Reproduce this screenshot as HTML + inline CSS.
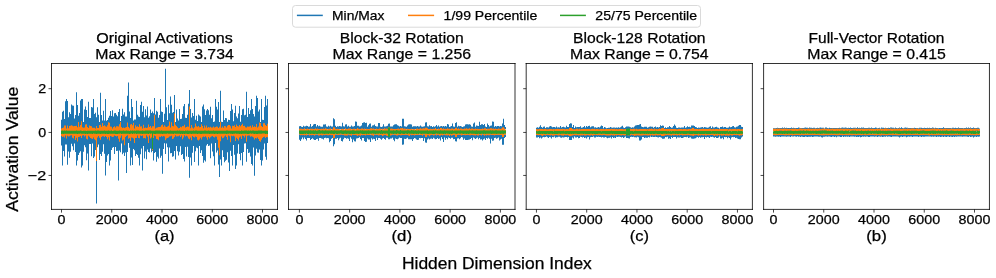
<!DOCTYPE html><html><head><meta charset="utf-8"><style>html,body{margin:0;padding:0;background:#fff;}svg{display:block;font-family:"Liberation Sans",sans-serif;}text{stroke:#000;stroke-width:0.25px}</style></head><body>
<svg width="996" height="278" viewBox="0 0 996 278" style="will-change:transform">
<rect width="996" height="278" fill="#fff"/>
<clipPath id="c0"><rect x="51.5" y="63.5" width="226.0" height="145.9"/></clipPath>
<g clip-path="url(#c0)">
<path d="M61,119.7H62V111.8H63V110.8H64V119.1H65V101.2H66V99.0H67V101.0H68V117.2H69V112.3H70V114.1H71V104.5H72V105.5H73V105.8H74V118.4H75V115.0H76V92.3H77V104.9H78V115.7H79V113.0H80V100.5H81V99.0H82V99.0H83V121.9H84V109.4H85V106.5H86V110.1H87V117.0H88V101.8H89V118.0H90V118.0H91V107.0H92V107.4H93V99.0H94V114.0H95V112.8H96V117.2H97V107.2H98V114.8H99V121.9H100V92.7H101V115.0H102V120.4H103V110.7H104V120.6H105V99.1H106V120.8H107V120.0H108V117.7H109V115.7H110V110.9H111V116.0H112V110.2H113V116.6H114V113.3H115V112.9H116V114.8H117V116.3H118V112.0H119V108.9H120V120.9H121V116.1H122V108.7H123V114.5H124V112.3H125V116.4H126V116.4H127V95.7H128V82.5H129V111.5H130V118.0H131V99.0H132V106.9H133V120.6H134V119.6H135V119.6H136V100.7H137V114.8H138V116.6H139V116.9H140V104.9H141V101.7H142V111.8H143V106.1H144V117.3H145V109.2H146V115.5H147V106.6H148V117.7H149V116.3H150V109.4H151V112.9H152V111.5H153V113.2H154V97.9H155V114.6H156V110.8H157V111.8H158V117.7H159V114.9H160V99.0H161V111.4H162V111.9H163V122.0H164V113.7H165V68.8H166V107.3H167V119.9H168V104.8H169V113.3H170V96.4H171V104.7H172V112.8H173V112.1H174V95.1H175V122.0H176V109.5H177V118.4H178V120.5H179V108.9H180V119.1H181V118.8H182V114.0H183V106.2H184V103.9H185V117.7H186V117.9H187V114.7H188V103.7H189V90.1H190V109.1H191V117.4H192V113.0H193V116.1H194V99.0H195V119.8H196V115.7H197V120.9H198V114.4H199V115.6H200V116.6H201V122.0H202V106.6H203V104.4H204V109.2H205V114.9H206V110.4H207V108.9H208V110.3H209V114.7H210V106.7H211V118.2H212V115.1H213V121.9H214V121.5H215V99.0H216V106.8H217V109.5H218V101.9H219V121.9H220V90.7H221V121.7H222V122.0H223V110.5H224V119.9H225V118.1H226V118.2H227V121.8H228V119.7H229V120.1H230V111.1H231V104.0H232V109.4H233V121.2H234V113.1H235V105.8H236V116.5H237V118.3H238V113.5H239V106.0H240V121.7H241V115.0H242V109.3H243V108.8H244V115.3H245V114.8H246V91.8H247V117.0H248V107.9H249V113.9H250V110.2H251V99.0H252V108.9H253V113.9H254V116.4H255V105.9H256V95.7H257V97.9H258V111.5H259V109.4H260V122.0H261V99.0H262V119.8H263V120.0H264V107.1H265V95.7H266V105.5H267V99.0H268V131.6H267V131.3H266V131.0H265V131.7H264V131.4H263V131.6H262V131.4H261V131.5H260V131.7H259V131.7H258V131.5H257V131.6H256V131.6H255V131.4H254V131.4H253V131.6H252V131.7H251V131.2H250V131.6H249V131.6H248V131.7H247V131.3H246V131.6H245V131.4H244V131.2H243V131.4H242V131.7H241V131.4H240V131.6H239V131.5H238V131.7H237V131.4H236V131.6H235V131.6H234V131.6H233V130.3H232V131.3H231V131.6H230V131.5H229V131.6H228V131.4H227V131.6H226V131.4H225V131.6H224V131.7H223V131.6H222V131.6H221V131.7H220V131.7H219V131.5H218V131.6H217V131.6H216V131.7H215V131.4H214V131.6H213V130.8H212V131.6H211V131.7H210V131.1H209V131.6H208V131.1H207V131.7H206V131.7H205V131.6H204V131.6H203V131.7H202V131.6H201V131.6H200V131.6H199V131.7H198V131.6H197V131.7H196V131.7H195V131.2H194V131.3H193V131.6H192V131.7H191V131.5H190V131.6H189V131.6H188V131.0H187V131.7H186V131.2H185V131.6H184V131.7H183V131.6H182V131.7H181V131.5H180V131.1H179V131.5H178V131.5H177V131.6H176V131.6H175V131.7H174V131.3H173V131.5H172V131.7H171V131.7H170V131.5H169V131.7H168V131.7H167V131.5H166V131.6H165V131.6H164V131.7H163V131.3H162V131.0H161V131.7H160V131.6H159V131.5H158V130.9H157V131.4H156V131.7H155V131.2H154V131.5H153V130.7H152V131.2H151V131.6H150V131.6H149V131.7H148V131.7H147V131.7H146V131.4H145V131.7H144V131.7H143V131.6H142V131.2H141V131.6H140V131.7H139V131.6H138V131.1H137V131.6H136V131.7H135V131.3H134V131.4H133V131.0H132V131.5H131V131.7H130V131.1H129V131.6H128V131.7H127V131.3H126V131.7H125V131.6H124V131.5H123V130.8H122V131.5H121V131.6H120V131.5H119V131.6H118V131.6H117V131.5H116V130.8H115V131.5H114V131.5H113V131.7H112V131.6H111V131.2H110V131.4H109V131.7H108V131.6H107V131.7H106V131.6H105V131.3H104V131.6H103V131.5H102V131.7H101V131.5H100V131.7H99V131.6H98V131.0H97V131.5H96V131.6H95V131.2H94V131.6H93V131.6H92V131.7H91V131.6H90V131.7H89V131.5H88V131.6H87V131.6H86V131.6H85V131.6H84V131.7H83V131.4H82V131.4H81V131.6H80V131.3H79V131.7H78V131.5H77V131.7H76V131.6H75V131.2H74V131.4H73V131.6H72V130.9H71V131.4H70V131.4H69V131.2H68V131.5H67V131.5H66V131.3H65V131.7H64V131.5H63V131.7H62V131.7H61ZM61,132.9H62V132.7H63V132.7H64V132.9H65V132.8H66V132.8H67V132.9H68V132.8H69V133.0H70V132.7H71V132.9H72V133.1H73V133.5H74V133.2H75V132.8H76V132.7H77V133.3H78V133.5H79V133.3H80V133.2H81V133.4H82V132.8H83V132.8H84V132.7H85V133.2H86V132.9H87V132.7H88V132.7H89V132.7H90V133.7H91V133.0H92V132.9H93V132.7H94V133.0H95V132.8H96V132.9H97V132.8H98V133.2H99V132.8H100V132.9H101V132.9H102V132.8H103V132.9H104V132.7H105V132.8H106V133.1H107V133.0H108V132.9H109V133.0H110V133.5H111V132.8H112V132.8H113V132.9H114V132.8H115V132.9H116V132.9H117V132.7H118V133.4H119V132.9H120V133.2H121V132.7H122V132.7H123V132.9H124V132.8H125V133.0H126V132.9H127V132.8H128V133.8H129V132.7H130V133.0H131V132.7H132V133.8H133V132.9H134V132.7H135V132.9H136V132.8H137V132.9H138V132.9H139V132.8H140V133.3H141V132.8H142V133.0H143V133.2H144V132.9H145V133.2H146V133.1H147V132.8H148V132.8H149V132.8H150V132.8H151V132.8H152V133.4H153V133.0H154V132.7H155V132.8H156V133.1H157V132.8H158V132.9H159V133.1H160V132.8H161V132.8H162V132.8H163V133.2H164V132.7H165V132.8H166V132.8H167V132.9H168V132.9H169V132.7H170V132.7H171V133.0H172V133.0H173V132.7H174V132.8H175V132.8H176V132.8H177V132.9H178V133.3H179V133.1H180V132.7H181V133.4H182V133.0H183V132.8H184V132.7H185V132.9H186V132.8H187V132.8H188V133.0H189V132.9H190V133.6H191V132.8H192V132.8H193V132.7H194V132.7H195V132.8H196V132.7H197V133.1H198V132.8H199V133.3H200V132.7H201V132.8H202V132.9H203V132.7H204V132.9H205V133.4H206V132.9H207V132.8H208V133.1H209V132.7H210V132.7H211V133.3H212V132.8H213V133.0H214V133.0H215V133.3H216V132.7H217V133.0H218V132.7H219V132.8H220V132.8H221V133.3H222V133.2H223V133.0H224V132.8H225V133.0H226V132.9H227V132.9H228V133.0H229V132.7H230V132.8H231V134.1H232V133.2H233V132.7H234V133.0H235V132.8H236V132.7H237V133.0H238V133.0H239V132.9H240V133.4H241V133.7H242V132.8H243V132.9H244V132.9H245V132.7H246V132.8H247V133.2H248V132.8H249V132.9H250V132.7H251V132.9H252V133.1H253V132.7H254V133.0H255V133.0H256V132.8H257V132.7H258V133.1H259V132.9H260V132.7H261V133.1H262V133.5H263V132.8H264V132.8H265V132.9H266V132.9H267V134.9H268V143.1H267V159.8H266V156.8H265V143.6H264V149.4H263V160.4H262V165.4H261V160.0H260V149.6H259V152.8H258V152.5H257V148.7H256V155.5H255V175.8H254V147.6H253V165.4H252V164.0H251V156.4H250V152.4H249V153.0H248V149.0H247V161.7H246V143.3H245V143.5H244V152.0H243V165.4H242V153.0H241V160.3H240V153.9H239V144.3H238V153.6H237V165.4H236V169.1H235V154.7H234V145.1H233V165.4H232V156.1H231V150.7H230V171.0H229V162.5H228V152.2H227V159.7H226V160.8H225V162.3H224V157.0H223V150.2H222V165.4H221V159.5H220V177.1H219V164.4H218V150.4H217V152.6H216V143.1H215V165.4H214V156.2H213V151.5H212V143.6H211V158.2H210V145.6H209V146.0H208V144.1H207V145.6H206V161.6H205V160.2H204V162.7H203V155.9H202V150.3H201V153.0H200V146.1H199V165.4H198V148.2H197V147.5H196V151.2H195V162.1H194V145.9H193V152.8H192V165.4H191V157.6H190V177.8H189V156.9H188V146.7H187V156.6H186V147.0H185V161.4H184V158.9H183V153.9H182V155.0H181V146.3H180V151.7H179V155.5H178V151.2H177V146.0H176V159.4H175V151.1H174V156.2H173V156.7H172V152.9H171V153.2H170V147.4H169V161.6H168V147.2H167V143.6H166V154.0H165V143.3H164V148.9H163V173.7H162V155.7H161V157.7H160V148.5H159V158.6H158V156.7H157V161.7H156V152.0H155V153.1H154V160.6H153V150.9H152V152.2H151V148.6H150V152.6H149V152.1H148V149.5H147V159.2H146V151.6H145V158.6H144V146.0H143V170.4H142V148.5H141V154.2H140V165.4H139V157.7H138V154.9H137V154.1H136V155.9H135V150.3H134V148.9H133V165.0H132V157.5H131V165.4H130V147.7H129V143.1H128V151.9H127V173.0H126V152.4H125V156.1H124V152.7H123V154.3H122V143.6H121V152.3H120V150.6H119V180.4H118V150.7H117V151.1H116V147.0H115V153.9H114V147.1H113V147.8H112V150.1H111V160.5H110V165.4H109V153.9H108V155.5H107V161.9H106V175.6H105V153.8H104V144.3H103V151.8H102V156.0H101V153.9H100V160.0H99V144.6H98V147.2H97V203.6H96V150.1H95V156.5H94V158.0H93V143.4H92V156.3H91V144.0H90V144.1H89V170.4H88V153.6H87V160.2H86V147.3H85V145.2H84V151.7H83V165.4H82V167.6H81V151.3H80V152.7H79V155.1H78V160.5H77V165.4H76V152.0H75V143.6H74V150.2H73V146.2H72V143.7H71V151.7H70V157.8H69V151.6H68V164.8H67V144.4H66V144.4H65V156.6H64V151.0H63V165.4H62V145.5H61Z" fill="#1f77b4"/>
<path d="M61,128.6H62V128.1H63V127.6H64V125.4H65V125.4H66V128.4H67V125.6H68V128.2H69V126.1H70V125.7H71V125.3H72V125.8H73V126.3H74V126.1H75V126.1H76V125.8H77V127.3H78V121.9H79V126.8H80V125.0H81V121.3H82V127.2H83V127.7H84V127.4H85V124.5H86V124.2H87V127.1H88V128.1H89V125.4H90V126.0H91V126.2H92V127.8H93V127.7H94V127.8H95V128.4H96V126.1H97V128.0H98V127.9H99V124.9H100V124.8H101V126.7H102V123.0H103V126.0H104V125.3H105V126.2H106V126.7H107V125.2H108V122.2H109V122.8H110V126.5H111V126.8H112V128.5H113V126.9H114V126.2H115V127.4H116V126.2H117V126.2H118V126.4H119V124.3H120V122.0H121V126.9H122V128.1H123V127.4H124V127.9H125V127.4H126V127.0H127V122.4H128V126.9H129V128.2H130V124.6H131V124.0H132V125.3H133V122.7H134V128.4H135V125.3H136V126.7H137V126.3H138V127.1H139V124.2H140V126.6H141V126.2H142V128.4H143V124.7H144V127.9H145V127.5H146V128.0H147V127.5H148V124.4H149V126.9H150V126.0H151V127.7H152V126.2H153V126.3H154V114.9H155V128.4H156V127.7H157V127.6H158V126.9H159V127.0H160V126.7H161V125.3H162V124.5H163V126.7H164V125.3H165V126.5H166V127.0H167V126.4H168V125.7H169V121.6H170V127.6H171V122.3H172V125.9H173V126.2H174V113.6H175V124.7H176V125.9H177V127.3H178V128.2H179V127.9H180V126.8H181V127.2H182V125.9H183V126.2H184V124.7H185V127.4H186V127.1H187V126.5H188V126.7H189V106.6H190V128.3H191V125.1H192V127.4H193V128.4H194V127.2H195V123.6H196V126.2H197V126.7H198V125.9H199V127.3H200V126.9H201V124.3H202V126.0H203V128.2H204V125.6H205V127.4H206V125.5H207V127.8H208V127.1H209V127.5H210V126.7H211V127.5H212V127.5H213V126.6H214V127.4H215V127.1H216V126.4H217V126.8H218V128.0H219V126.8H220V121.8H221V127.8H222V126.6H223V127.7H224V125.9H225V126.3H226V127.4H227V125.7H228V125.0H229V125.1H230V126.3H231V128.5H232V125.8H233V126.0H234V125.3H235V126.9H236V124.4H237V126.0H238V126.4H239V125.0H240V126.3H241V125.0H242V123.8H243V126.1H244V125.8H245V127.3H246V127.5H247V126.4H248V126.7H249V126.6H250V125.7H251V127.5H252V125.3H253V127.0H254V126.3H255V126.9H256V124.1H257V127.4H258V126.5H259V122.6H260V123.1H261V126.1H262V127.1H263V123.2H264V123.2H265V124.9H266V126.1H267V123.7H268V132.6H267V132.8H266V132.5H265V132.7H264V132.6H263V132.8H262V132.8H261V132.8H260V132.8H259V132.8H258V132.7H257V132.8H256V132.8H255V132.8H254V132.7H253V132.7H252V132.6H251V132.7H250V132.8H249V132.6H248V132.7H247V132.7H246V132.6H245V132.6H244V132.7H243V132.8H242V132.7H241V132.8H240V132.7H239V132.6H238V132.8H237V132.8H236V132.8H235V132.8H234V132.6H233V132.7H232V132.8H231V132.8H230V132.7H229V132.8H228V132.7H227V132.8H226V132.7H225V132.8H224V132.8H223V132.3H222V132.6H221V132.7H220V132.7H219V132.8H218V132.8H217V132.8H216V132.7H215V132.7H214V132.7H213V132.7H212V132.7H211V132.6H210V132.7H209V132.8H208V132.7H207V132.8H206V132.8H205V132.7H204V132.5H203V132.7H202V132.7H201V132.7H200V132.6H199V132.7H198V132.7H197V132.8H196V132.8H195V132.6H194V132.8H193V132.7H192V132.8H191V132.7H190V132.7H189V132.8H188V132.8H187V132.7H186V132.8H185V132.6H184V132.7H183V132.5H182V132.5H181V132.4H180V132.5H179V132.7H178V132.8H177V132.7H176V132.8H175V132.8H174V132.8H173V132.7H172V132.7H171V132.7H170V132.8H169V132.8H168V132.8H167V132.8H166V132.7H165V132.8H164V132.8H163V132.8H162V132.8H161V132.8H160V132.8H159V132.8H158V132.8H157V132.8H156V132.8H155V132.7H154V132.8H153V132.8H152V132.8H151V132.7H150V132.7H149V132.7H148V132.6H147V132.8H146V132.7H145V132.8H144V132.7H143V132.6H142V132.7H141V132.8H140V132.7H139V132.7H138V132.5H137V132.8H136V132.7H135V132.6H134V132.7H133V132.6H132V132.8H131V132.7H130V132.7H129V132.8H128V132.7H127V132.7H126V132.7H125V132.6H124V132.8H123V132.7H122V132.7H121V132.8H120V132.7H119V132.6H118V132.8H117V132.8H116V132.8H115V132.7H114V132.7H113V132.7H112V132.5H111V132.5H110V132.7H109V132.8H108V132.7H107V132.8H106V132.7H105V132.6H104V132.5H103V132.8H102V132.8H101V132.6H100V132.8H99V132.7H98V132.7H97V132.8H96V132.8H95V132.7H94V132.7H93V132.7H92V132.7H91V132.7H90V132.7H89V132.8H88V132.6H87V132.8H86V132.6H85V132.7H84V132.3H83V132.8H82V132.3H81V132.7H80V132.8H79V132.8H78V132.7H77V132.7H76V132.7H75V132.8H74V132.8H73V132.8H72V132.8H71V132.7H70V132.8H69V132.7H68V132.8H67V132.7H66V132.8H65V132.8H64V132.7H63V132.7H62V132.7H61ZM61,131.9H62V131.7H63V131.6H64V131.7H65V131.7H66V131.8H67V131.6H68V131.6H69V131.7H70V131.6H71V131.7H72V131.7H73V131.6H74V131.6H75V131.7H76V131.7H77V131.9H78V131.8H79V131.6H80V131.6H81V131.7H82V131.7H83V131.9H84V131.6H85V131.7H86V131.6H87V131.6H88V131.8H89V131.7H90V131.8H91V131.6H92V131.7H93V131.6H94V131.6H95V131.6H96V131.6H97V131.6H98V131.7H99V131.7H100V131.7H101V131.6H102V131.6H103V131.6H104V131.6H105V131.7H106V131.8H107V131.7H108V131.6H109V131.8H110V131.8H111V131.7H112V131.8H113V131.7H114V131.7H115V131.8H116V131.7H117V131.6H118V131.6H119V131.7H120V131.7H121V131.6H122V131.6H123V131.7H124V131.7H125V131.6H126V131.7H127V131.6H128V131.7H129V131.7H130V131.6H131V131.6H132V131.6H133V131.6H134V131.8H135V131.7H136V131.6H137V131.7H138V131.7H139V131.7H140V131.6H141V131.6H142V131.6H143V131.8H144V131.6H145V131.8H146V131.7H147V131.8H148V131.6H149V131.7H150V131.6H151V131.7H152V131.8H153V131.7H154V131.6H155V131.7H156V131.6H157V131.6H158V131.6H159V131.7H160V131.6H161V131.6H162V131.7H163V131.6H164V131.6H165V131.6H166V131.6H167V131.6H168V131.6H169V131.7H170V131.6H171V131.6H172V131.6H173V131.7H174V131.6H175V131.6H176V131.6H177V131.6H178V131.8H179V131.7H180V131.7H181V131.6H182V131.7H183V131.6H184V131.7H185V131.7H186V131.7H187V131.7H188V131.6H189V131.7H190V131.6H191V131.6H192V131.6H193V131.6H194V131.6H195V131.7H196V131.6H197V131.6H198V131.6H199V131.7H200V131.7H201V131.6H202V131.6H203V131.6H204V131.6H205V131.7H206V131.6H207V131.7H208V131.6H209V131.7H210V131.6H211V131.6H212V131.6H213V131.7H214V131.8H215V131.6H216V131.7H217V131.6H218V131.6H219V131.7H220V131.7H221V131.7H222V131.6H223V131.7H224V131.6H225V131.6H226V131.7H227V131.6H228V131.7H229V131.7H230V131.6H231V131.6H232V131.6H233V131.7H234V131.8H235V131.7H236V131.6H237V131.6H238V131.6H239V131.8H240V131.6H241V131.6H242V131.7H243V131.6H244V131.7H245V131.6H246V131.7H247V131.7H248V131.7H249V131.8H250V131.9H251V131.6H252V131.9H253V131.7H254V131.6H255V131.8H256V131.6H257V131.6H258V131.7H259V131.6H260V131.7H261V131.6H262V131.6H263V131.7H264V131.6H265V131.6H266V131.7H267V131.6H268V137.2H267V136.9H266V137.9H265V136.7H264V137.0H263V138.0H262V139.7H261V141.7H260V141.1H259V138.9H258V137.4H257V138.5H256V138.1H255V139.4H254V137.6H253V136.7H252V136.2H251V136.8H250V135.6H249V135.4H248V135.7H247V141.8H246V135.4H245V137.6H244V136.1H243V135.4H242V139.0H241V136.4H240V137.6H239V140.6H238V139.0H237V137.8H236V141.1H235V136.6H234V135.8H233V136.3H232V135.8H231V142.3H230V136.2H229V135.6H228V139.7H227V136.9H226V135.4H225V136.4H224V137.7H223V138.2H222V136.6H221V141.2H220V155.2H219V147.8H218V139.7H217V136.7H216V136.5H215V137.4H214V137.1H213V136.1H212V136.6H211V137.3H210V138.5H209V137.1H208V139.8H207V137.5H206V136.3H205V137.0H204V136.4H203V137.2H202V139.5H201V137.7H200V139.4H199V140.4H198V139.7H197V137.0H196V136.4H195V137.4H194V137.0H193V135.9H192V140.3H191V137.4H190V139.3H189V138.6H188V136.4H187V135.8H186V136.4H185V135.3H184V137.6H183V139.2H182V135.5H181V136.9H180V135.4H179V136.3H178V136.2H177V136.6H176V135.3H175V137.0H174V138.4H173V139.1H172V135.7H171V136.2H170V136.5H169V137.4H168V137.9H167V138.5H166V140.2H165V136.6H164V136.1H163V136.7H162V136.1H161V137.0H160V136.8H159V140.2H158V139.3H157V139.1H156V136.3H155V135.4H154V138.0H153V150.6H152V137.5H151V138.4H150V135.4H149V142.9H148V136.7H147V135.2H146V138.4H145V137.9H144V138.3H143V135.4H142V136.1H141V135.5H140V138.2H139V137.9H138V135.4H137V138.0H136V138.1H135V142.9H134V138.4H133V137.8H132V137.4H131V140.9H130V138.0H129V138.7H128V135.3H127V136.1H126V136.9H125V145.2H124V139.4H123V140.4H122V135.4H121V137.8H120V141.7H119V138.7H118V136.1H117V136.6H116V136.0H115V135.4H114V136.7H113V136.9H112V136.5H111V136.1H110V140.5H109V137.3H108V139.2H107V137.0H106V135.9H105V137.0H104V136.3H103V136.2H102V137.1H101V139.7H100V137.7H99V135.9H98V137.6H97V161.0H96V140.2H95V139.2H94V137.5H93V138.9H92V138.4H91V137.9H90V136.7H89V135.8H88V139.4H87V138.8H86V135.4H85V136.6H84V135.3H83V135.5H82V138.0H81V136.1H80V136.8H79V136.9H78V141.6H77V137.8H76V139.9H75V136.1H74V138.6H73V137.8H72V135.3H71V135.6H70V136.3H69V136.4H68V135.8H67V138.6H66V135.6H65V137.5H64V136.5H63V137.0H62V135.9H61Z" fill="#ff7f0e"/>
<path d="M61,130.8H62V130.6H63V130.7H64V130.6H65V130.7H66V130.5H67V130.7H68V130.7H69V130.8H70V130.7H71V130.8H72V130.7H73V130.7H74V130.8H75V130.7H76V130.6H77V130.8H78V130.8H79V130.7H80V130.5H81V130.7H82V130.9H83V130.7H84V130.8H85V130.7H86V130.9H87V130.7H88V130.7H89V130.7H90V130.7H91V130.7H92V130.7H93V130.7H94V130.8H95V130.6H96V130.8H97V130.6H98V130.6H99V130.8H100V130.7H101V130.7H102V130.7H103V130.7H104V130.6H105V130.7H106V130.8H107V130.7H108V130.6H109V130.7H110V130.7H111V130.5H112V130.9H113V130.8H114V130.6H115V130.6H116V130.8H117V130.8H118V130.8H119V130.5H120V130.7H121V130.7H122V130.8H123V130.6H124V130.7H125V130.8H126V130.6H127V130.7H128V130.7H129V130.9H130V130.6H131V130.8H132V130.6H133V130.8H134V130.6H135V130.8H136V130.6H137V130.6H138V130.6H139V130.7H140V130.7H141V130.7H142V130.5H143V130.8H144V130.7H145V130.6H146V130.5H147V130.4H148V130.6H149V130.6H150V130.6H151V130.7H152V130.8H153V130.8H154V130.8H155V130.6H156V130.6H157V130.6H158V130.6H159V130.5H160V130.7H161V130.5H162V130.8H163V130.7H164V130.7H165V130.7H166V130.7H167V130.7H168V130.8H169V130.8H170V130.6H171V130.7H172V130.7H173V130.7H174V130.7H175V130.7H176V130.8H177V130.6H178V130.8H179V130.6H180V130.7H181V130.7H182V130.8H183V130.7H184V130.9H185V130.4H186V130.7H187V130.6H188V130.8H189V130.7H190V130.8H191V130.7H192V130.7H193V130.6H194V130.8H195V130.6H196V130.6H197V130.7H198V130.7H199V130.7H200V130.7H201V130.7H202V130.7H203V130.7H204V130.6H205V130.5H206V130.8H207V130.7H208V130.6H209V130.8H210V130.8H211V130.7H212V130.8H213V130.6H214V130.8H215V130.7H216V130.7H217V130.7H218V130.8H219V130.8H220V130.7H221V130.8H222V130.8H223V130.7H224V130.8H225V130.8H226V130.6H227V130.6H228V130.8H229V130.8H230V130.7H231V130.7H232V130.7H233V130.7H234V130.7H235V130.7H236V130.7H237V130.7H238V130.8H239V130.7H240V130.9H241V130.6H242V130.7H243V130.8H244V130.6H245V130.6H246V130.6H247V130.8H248V130.6H249V130.7H250V130.6H251V130.7H252V130.6H253V130.5H254V130.7H255V130.7H256V130.7H257V130.7H258V130.6H259V130.6H260V130.6H261V130.6H262V130.8H263V130.7H264V130.7H265V130.5H266V130.7H267V130.7H268V132.9H267V132.9H266V132.8H265V132.8H264V132.8H263V132.7H262V132.7H261V132.7H260V132.7H259V132.8H258V132.8H257V132.8H256V132.7H255V132.7H254V132.6H253V132.8H252V132.9H251V132.8H250V132.7H249V132.8H248V132.7H247V132.8H246V132.6H245V132.7H244V132.9H243V132.7H242V132.8H241V132.7H240V132.7H239V132.7H238V132.6H237V132.8H236V132.6H235V132.8H234V132.7H233V132.7H232V132.8H231V132.9H230V132.6H229V132.8H228V132.7H227V132.7H226V132.8H225V132.7H224V132.9H223V132.8H222V132.7H221V132.7H220V132.7H219V132.7H218V132.6H217V132.7H216V132.8H215V132.7H214V132.7H213V132.8H212V132.9H211V132.8H210V132.8H209V132.8H208V132.5H207V132.6H206V132.8H205V132.8H204V132.7H203V132.8H202V132.7H201V132.8H200V132.7H199V132.7H198V132.7H197V132.7H196V132.7H195V132.7H194V132.7H193V132.7H192V132.7H191V132.8H190V132.7H189V132.8H188V132.7H187V132.6H186V132.6H185V132.9H184V132.6H183V132.8H182V132.7H181V132.6H180V132.8H179V132.7H178V132.7H177V132.7H176V132.6H175V132.7H174V132.9H173V132.8H172V132.6H171V132.8H170V132.7H169V132.8H168V132.7H167V132.7H166V132.7H165V132.7H164V132.7H163V132.8H162V132.7H161V132.6H160V132.7H159V132.7H158V132.8H157V132.7H156V132.6H155V132.7H154V132.6H153V132.8H152V132.8H151V132.7H150V132.8H149V132.7H148V132.7H147V132.7H146V132.7H145V132.7H144V132.8H143V132.7H142V132.9H141V132.8H140V132.6H139V132.8H138V132.8H137V132.7H136V132.9H135V132.8H134V132.8H133V132.7H132V132.7H131V132.7H130V132.8H129V132.8H128V132.7H127V132.7H126V132.7H125V132.7H124V132.7H123V132.6H122V132.8H121V132.7H120V132.8H119V132.7H118V132.7H117V132.8H116V132.6H115V132.8H114V132.9H113V132.7H112V132.9H111V132.7H110V132.8H109V132.7H108V132.7H107V132.8H106V132.7H105V133.0H104V132.8H103V132.7H102V132.6H101V132.7H100V132.7H99V132.8H98V132.7H97V132.8H96V132.6H95V132.9H94V132.6H93V132.7H92V132.8H91V132.7H90V132.7H89V132.8H88V132.9H87V132.7H86V132.9H85V132.8H84V132.7H83V132.8H82V132.8H81V132.8H80V132.8H79V132.9H78V132.6H77V132.6H76V133.0H75V132.7H74V132.7H73V132.8H72V132.7H71V132.6H70V132.9H69V132.9H68V132.6H67V132.7H66V133.0H65V132.9H64V132.7H63V132.8H62V132.6H61ZM61,131.6H62V131.8H63V131.7H64V131.8H65V131.7H66V131.7H67V131.6H68V131.8H69V131.7H70V131.8H71V131.7H72V131.6H73V131.6H74V131.7H75V131.9H76V131.7H77V131.7H78V131.6H79V131.7H80V131.7H81V131.8H82V131.8H83V131.9H84V131.7H85V131.7H86V131.7H87V131.7H88V131.8H89V131.7H90V131.5H91V131.6H92V131.7H93V131.7H94V131.6H95V131.7H96V131.6H97V131.6H98V131.6H99V131.7H100V131.8H101V131.7H102V131.7H103V131.9H104V131.7H105V131.7H106V131.6H107V131.6H108V131.4H109V131.7H110V131.7H111V131.7H112V131.9H113V131.7H114V131.8H115V131.8H116V131.8H117V131.8H118V131.7H119V131.7H120V131.7H121V131.8H122V131.7H123V131.6H124V131.7H125V131.7H126V131.8H127V131.8H128V131.9H129V131.8H130V131.8H131V131.7H132V131.8H133V131.7H134V131.8H135V131.8H136V131.9H137V131.8H138V131.7H139V131.8H140V131.7H141V131.8H142V131.8H143V131.8H144V131.8H145V131.7H146V131.7H147V131.7H148V131.8H149V131.6H150V131.9H151V131.4H152V131.8H153V131.7H154V131.8H155V131.6H156V131.9H157V131.6H158V131.8H159V131.7H160V131.8H161V131.5H162V131.8H163V131.7H164V131.8H165V131.7H166V131.7H167V131.7H168V131.8H169V131.7H170V131.8H171V131.7H172V131.6H173V131.6H174V131.7H175V131.9H176V131.6H177V131.8H178V131.8H179V131.6H180V131.5H181V131.7H182V131.8H183V131.8H184V131.6H185V131.7H186V131.8H187V131.7H188V131.7H189V131.9H190V131.8H191V131.7H192V131.7H193V131.6H194V131.6H195V131.7H196V131.8H197V131.8H198V131.7H199V131.8H200V131.8H201V131.7H202V131.7H203V131.6H204V131.7H205V131.7H206V131.7H207V131.4H208V131.7H209V131.8H210V131.7H211V131.8H212V131.7H213V131.7H214V131.5H215V131.7H216V131.8H217V131.6H218V131.7H219V131.6H220V131.8H221V131.5H222V131.7H223V131.7H224V131.6H225V131.6H226V131.8H227V131.6H228V131.7H229V131.8H230V131.6H231V131.7H232V131.7H233V131.6H234V131.8H235V131.4H236V131.7H237V131.8H238V131.8H239V131.8H240V131.8H241V131.7H242V131.8H243V131.6H244V131.8H245V131.7H246V131.8H247V131.8H248V131.8H249V131.7H250V131.8H251V131.5H252V131.6H253V131.9H254V131.9H255V131.6H256V131.7H257V131.7H258V131.8H259V131.8H260V131.9H261V131.5H262V131.7H263V131.6H264V131.8H265V131.7H266V131.6H267V132.0H268V134.0H267V133.8H266V133.9H265V133.6H264V133.6H263V133.6H262V133.7H261V133.7H260V133.8H259V133.8H258V133.9H257V133.9H256V133.7H255V133.9H254V133.7H253V133.5H252V133.7H251V133.6H250V133.7H249V133.9H248V133.9H247V133.8H246V133.7H245V133.7H244V133.7H243V133.8H242V134.0H241V133.8H240V134.1H239V133.7H238V133.8H237V133.7H236V133.6H235V133.7H234V133.7H233V133.9H232V133.7H231V133.7H230V133.6H229V133.7H228V133.7H227V134.0H226V133.8H225V133.8H224V133.8H223V133.8H222V133.7H221V133.8H220V133.7H219V133.7H218V133.9H217V133.8H216V133.8H215V133.9H214V133.7H213V133.8H212V133.7H211V133.7H210V133.9H209V133.8H208V133.7H207V133.8H206V133.8H205V133.8H204V133.8H203V133.7H202V133.9H201V133.9H200V133.7H199V133.8H198V134.0H197V133.8H196V133.7H195V133.7H194V133.7H193V133.7H192V133.9H191V133.7H190V133.7H189V133.9H188V133.9H187V133.8H186V133.7H185V133.9H184V133.8H183V133.9H182V133.8H181V133.9H180V133.8H179V133.8H178V133.7H177V133.7H176V133.8H175V133.6H174V133.9H173V133.8H172V133.7H171V133.7H170V133.7H169V133.8H168V133.6H167V133.8H166V133.8H165V133.8H164V133.7H163V133.9H162V133.8H161V133.8H160V133.8H159V133.8H158V133.7H157V133.7H156V133.9H155V133.9H154V133.8H153V149.1H152V133.6H151V133.7H150V133.6H149V133.9H148V133.7H147V133.8H146V133.8H145V133.8H144V133.7H143V133.9H142V133.8H141V133.8H140V133.8H139V133.7H138V133.8H137V133.9H136V133.6H135V133.7H134V133.6H133V133.9H132V133.6H131V133.8H130V133.9H129V133.8H128V133.8H127V133.8H126V133.8H125V133.7H124V133.8H123V133.7H122V133.9H121V133.6H120V133.7H119V133.7H118V134.0H117V133.9H116V133.9H115V133.7H114V133.7H113V133.7H112V133.8H111V133.7H110V133.8H109V133.9H108V133.9H107V133.7H106V133.9H105V133.7H104V133.8H103V133.8H102V133.7H101V133.9H100V133.7H99V133.7H98V133.8H97V133.9H96V133.7H95V133.8H94V133.6H93V133.9H92V133.7H91V133.7H90V133.8H89V133.7H88V133.9H87V133.8H86V134.0H85V133.7H84V133.8H83V133.7H82V133.7H81V133.6H80V133.8H79V133.7H78V133.9H77V133.7H76V133.7H75V133.8H74V133.7H73V133.7H72V133.7H71V133.8H70V133.8H69V133.7H68V133.7H67V133.7H66V133.7H65V133.8H64V133.9H63V133.8H62V133.9H61Z" fill="#2ca02c"/>
</g>
<path d="M51.5,63.0V209.9" stroke="#000" stroke-opacity="0.8" stroke-width="1"/>
<path d="M277.5,63.0V209.9" stroke="#000" stroke-opacity="0.8" stroke-width="1"/>
<path d="M51.0,63.5H278.0" stroke="#000" stroke-opacity="0.8" stroke-width="1"/>
<path d="M51.0,209.4H278.0" stroke="#000" stroke-opacity="0.8" stroke-width="1"/>
<line x1="61.50" y1="209.4" x2="61.50" y2="212.60" stroke="#000" stroke-opacity="0.8" stroke-width="0.9"/>
<text x="61.50" y="224.40" font-size="13.19" text-anchor="middle" textLength="7.95" lengthAdjust="spacingAndGlyphs" fill="#000">0</text>
<line x1="111.75" y1="209.4" x2="111.75" y2="212.60" stroke="#000" stroke-opacity="0.8" stroke-width="0.9"/>
<text x="111.75" y="224.40" font-size="13.19" text-anchor="middle" textLength="31.81" lengthAdjust="spacingAndGlyphs" fill="#000">2000</text>
<line x1="162.00" y1="209.4" x2="162.00" y2="212.60" stroke="#000" stroke-opacity="0.8" stroke-width="0.9"/>
<text x="162.00" y="224.40" font-size="13.19" text-anchor="middle" textLength="31.81" lengthAdjust="spacingAndGlyphs" fill="#000">4000</text>
<line x1="212.25" y1="209.4" x2="212.25" y2="212.60" stroke="#000" stroke-opacity="0.8" stroke-width="0.9"/>
<text x="212.25" y="224.40" font-size="13.19" text-anchor="middle" textLength="31.81" lengthAdjust="spacingAndGlyphs" fill="#000">6000</text>
<line x1="262.50" y1="209.4" x2="262.50" y2="212.60" stroke="#000" stroke-opacity="0.8" stroke-width="0.9"/>
<text x="262.50" y="224.40" font-size="13.19" text-anchor="middle" textLength="31.81" lengthAdjust="spacingAndGlyphs" fill="#000">8000</text>
<line x1="48.50" y1="88.70" x2="51.5" y2="88.70" stroke="#000" stroke-opacity="0.8" stroke-width="0.9"/>
<text x="46.20" y="93.30" font-size="13.19" text-anchor="end" textLength="7.95" lengthAdjust="spacingAndGlyphs" fill="#000">2</text>
<line x1="48.50" y1="132.45" x2="51.5" y2="132.45" stroke="#000" stroke-opacity="0.8" stroke-width="0.9"/>
<text x="46.20" y="137.05" font-size="13.19" text-anchor="end" textLength="7.95" lengthAdjust="spacingAndGlyphs" fill="#000">0</text>
<line x1="48.50" y1="175.45" x2="51.5" y2="175.45" stroke="#000" stroke-opacity="0.8" stroke-width="0.9"/>
<text x="46.20" y="180.05" font-size="13.19" text-anchor="end" textLength="18.43" lengthAdjust="spacingAndGlyphs" fill="#000">−2</text>
<text x="164.50" y="42.80" font-size="14.77" text-anchor="middle" textLength="136.62" lengthAdjust="spacingAndGlyphs" fill="#000">Original Activations</text>
<text x="164.50" y="58.60" font-size="14.77" text-anchor="middle" textLength="138.48" lengthAdjust="spacingAndGlyphs" fill="#000">Max Range = 3.734</text>
<text x="164.50" y="240.80" font-size="15.30" text-anchor="middle" textLength="20.20" lengthAdjust="spacingAndGlyphs" fill="#000">(a)</text>
<clipPath id="c1"><rect x="288.5" y="63.5" width="226.5" height="145.9"/></clipPath>
<g clip-path="url(#c1)">
<path d="M299,126.3H300V126.1H301V126.7H302V126.9H303V125.7H304V126.5H305V126.3H306V125.7H307V126.0H308V126.7H309V126.6H310V124.0H311V126.8H312V125.9H313V124.6H314V124.0H315V124.0H316V126.4H317V125.0H318V126.2H319V125.8H320V126.6H321V126.7H322V126.7H323V124.5H324V124.4H325V124.3H326V126.4H327V126.7H328V125.7H329V126.5H330V125.8H331V126.4H332V126.5H333V118.2H334V119.3H335V125.7H336V127.0H337V126.2H338V126.6H339V126.1H340V126.3H341V126.6H342V122.7H343V126.3H344V126.5H345V124.6H346V124.3H347V126.6H348V125.7H349V126.8H350V126.7H351V125.5H352V126.6H353V126.6H354V125.9H355V121.6H356V121.8H357V125.8H358V125.8H359V126.4H360V126.2H361V125.5H362V123.1H363V122.4H364V122.3H365V122.9H366V122.7H367V126.7H368V125.2H369V123.8H370V123.6H371V126.7H372V125.5H373V125.3H374V124.6H375V126.1H376V126.5H377V126.4H378V122.9H379V123.1H380V126.7H381V127.0H382V126.6H383V124.3H384V126.4H385V126.5H386V126.3H387V125.7H388V123.8H389V123.6H390V126.6H391V126.4H392V126.4H393V125.2H394V124.4H395V124.3H396V124.3H397V125.2H398V125.8H399V126.5H400V126.1H401V126.5H402V118.8H403V118.8H404V126.3H405V126.4H406V126.7H407V125.6H408V124.5H409V124.3H410V124.3H411V124.4H412V126.7H413V126.2H414V126.2H415V126.3H416V126.4H417V126.0H418V126.4H419V126.6H420V125.6H421V126.5H422V126.7H423V126.6H424V126.3H425V122.4H426V122.2H427V126.3H428V126.5H429V125.3H430V126.3H431V125.9H432V126.9H433V126.2H434V126.7H435V126.3H436V124.9H437V126.5H438V125.4H439V126.7H440V126.3H441V125.9H442V126.4H443V125.9H444V126.6H445V125.9H446V126.4H447V124.1H448V124.6H449V126.9H450V126.4H451V125.9H452V123.5H453V126.5H454V126.8H455V123.1H456V122.2H457V126.8H458V125.7H459V126.2H460V126.1H461V126.5H462V127.0H463V126.6H464V126.3H465V124.4H466V124.3H467V124.3H468V124.5H469V124.3H470V124.7H471V126.4H472V126.7H473V123.6H474V122.6H475V126.8H476V125.4H477V125.7H478V126.1H479V121.7H480V125.0H481V124.3H482V124.3H483V124.9H484V123.9H485V126.5H486V127.1H487V123.5H488V124.9H489V126.5H490V125.8H491V125.5H492V121.6H493V121.7H494V126.7H495V125.9H496V126.6H497V125.9H498V125.9H499V126.5H500V126.0H501V126.3H502V123.5H503V118.8H504V125.1H505V127.0H506V129.0H505V129.2H504V129.2H503V129.2H502V129.2H501V129.2H500V129.2H499V129.2H498V129.2H497V129.2H496V129.2H495V129.2H494V129.2H493V129.2H492V129.2H491V129.2H490V129.2H489V129.2H488V129.2H487V129.2H486V129.2H485V129.2H484V129.2H483V129.2H482V129.2H481V129.2H480V129.2H479V129.2H478V129.2H477V129.2H476V129.2H475V129.2H474V129.2H473V129.2H472V129.2H471V129.2H470V129.2H469V129.2H468V129.2H467V129.2H466V129.2H465V129.2H464V129.2H463V129.2H462V129.2H461V129.2H460V129.2H459V129.2H458V129.2H457V129.2H456V129.2H455V129.2H454V129.2H453V129.2H452V129.2H451V129.2H450V129.2H449V129.2H448V129.2H447V129.2H446V129.2H445V129.2H444V129.2H443V129.2H442V129.2H441V129.2H440V129.2H439V129.2H438V129.2H437V129.2H436V129.2H435V129.2H434V129.2H433V129.2H432V129.2H431V129.2H430V129.2H429V129.2H428V129.2H427V129.2H426V129.2H425V129.2H424V129.2H423V129.2H422V129.2H421V129.2H420V129.2H419V129.2H418V129.2H417V129.2H416V129.2H415V129.2H414V129.2H413V129.2H412V129.2H411V129.2H410V129.2H409V129.2H408V129.2H407V129.2H406V129.2H405V129.2H404V129.2H403V129.2H402V129.2H401V129.2H400V129.2H399V129.2H398V129.2H397V129.2H396V129.2H395V129.2H394V129.2H393V129.2H392V129.2H391V129.2H390V129.2H389V129.2H388V129.2H387V129.2H386V129.2H385V129.2H384V129.2H383V129.2H382V129.2H381V129.2H380V129.2H379V129.2H378V129.2H377V129.2H376V129.2H375V129.2H374V129.2H373V129.2H372V129.2H371V129.2H370V129.2H369V129.2H368V129.2H367V129.2H366V129.2H365V129.2H364V129.2H363V129.2H362V129.2H361V129.2H360V129.2H359V129.2H358V129.2H357V129.2H356V129.2H355V129.2H354V129.2H353V129.2H352V129.2H351V129.2H350V129.2H349V129.2H348V129.2H347V129.2H346V129.2H345V129.2H344V129.2H343V129.2H342V129.2H341V129.2H340V129.2H339V129.2H338V129.2H337V129.2H336V129.2H335V129.2H334V129.2H333V129.2H332V129.2H331V129.2H330V129.2H329V129.2H328V129.2H327V129.2H326V129.2H325V129.2H324V129.2H323V129.2H322V129.2H321V129.2H320V129.2H319V129.2H318V129.2H317V129.2H316V129.2H315V129.2H314V129.2H313V129.2H312V129.2H311V129.2H310V129.2H309V129.2H308V129.2H307V129.2H306V129.2H305V129.2H304V129.2H303V129.2H302V129.2H301V129.2H300V129.2H299ZM299,134.3H300V134.3H301V134.4H302V134.3H303V134.3H304V134.3H305V134.3H306V134.3H307V134.4H308V134.3H309V134.3H310V134.3H311V134.4H312V134.3H313V134.3H314V134.3H315V134.3H316V134.3H317V134.3H318V134.3H319V134.3H320V134.4H321V134.3H322V134.3H323V134.3H324V134.3H325V134.3H326V134.3H327V134.3H328V134.3H329V134.3H330V134.3H331V134.4H332V134.3H333V134.3H334V134.3H335V134.3H336V134.3H337V134.3H338V134.3H339V134.3H340V134.3H341V134.3H342V134.4H343V134.3H344V134.3H345V134.3H346V134.3H347V134.3H348V134.3H349V134.3H350V134.3H351V134.3H352V134.3H353V134.3H354V134.4H355V134.4H356V134.3H357V134.3H358V134.3H359V134.3H360V134.3H361V134.4H362V134.3H363V134.3H364V134.3H365V134.3H366V134.3H367V134.3H368V134.3H369V134.3H370V134.4H371V134.3H372V134.3H373V134.3H374V134.3H375V134.3H376V134.3H377V134.3H378V134.3H379V134.3H380V134.3H381V134.3H382V134.3H383V134.3H384V134.3H385V134.3H386V134.3H387V134.4H388V134.3H389V134.3H390V134.3H391V134.3H392V134.3H393V134.3H394V134.3H395V134.3H396V134.4H397V134.4H398V134.3H399V134.3H400V134.3H401V134.3H402V134.3H403V134.3H404V134.3H405V134.3H406V134.3H407V134.3H408V134.4H409V134.4H410V134.3H411V134.3H412V134.3H413V134.3H414V134.3H415V134.4H416V134.3H417V134.3H418V134.3H419V134.4H420V134.3H421V134.3H422V134.3H423V134.3H424V134.3H425V134.3H426V134.3H427V134.4H428V134.3H429V134.3H430V134.3H431V134.4H432V134.3H433V134.3H434V134.3H435V134.3H436V134.3H437V134.3H438V134.3H439V134.4H440V134.3H441V134.3H442V134.3H443V134.3H444V134.3H445V134.3H446V134.3H447V134.3H448V134.3H449V134.3H450V134.3H451V134.3H452V134.3H453V134.3H454V134.3H455V134.3H456V134.4H457V134.3H458V134.3H459V134.3H460V134.3H461V134.4H462V134.4H463V134.4H464V134.3H465V134.3H466V134.3H467V134.3H468V134.3H469V134.3H470V134.3H471V134.3H472V134.3H473V134.3H474V134.3H475V134.3H476V134.3H477V134.4H478V134.4H479V134.3H480V134.3H481V134.3H482V134.3H483V134.3H484V134.3H485V134.3H486V134.3H487V134.4H488V134.4H489V134.4H490V134.3H491V134.3H492V134.3H493V134.3H494V134.4H495V134.3H496V134.3H497V134.3H498V134.3H499V134.3H500V134.3H501V134.3H502V134.3H503V134.3H504V134.3H505V134.4H506V137.1H505V137.9H504V144.8H503V144.7H502V138.7H501V139.5H500V140.5H499V137.6H498V138.3H497V138.8H496V137.7H495V138.0H494V140.5H493V140.7H492V138.7H491V143.6H490V138.7H489V137.7H488V138.7H487V137.9H486V139.9H485V138.4H484V139.2H483V140.6H482V139.2H481V139.4H480V137.9H479V139.3H478V137.6H477V138.2H476V138.9H475V138.3H474V137.6H473V140.3H472V138.1H471V139.1H470V139.6H469V139.8H468V140.0H467V139.9H466V140.0H465V138.6H464V139.8H463V137.4H462V137.1H461V138.2H460V139.2H459V138.2H458V138.4H457V141.4H456V141.3H455V138.9H454V139.2H453V137.7H452V137.8H451V138.8H450V138.1H449V137.6H448V139.3H447V138.1H446V139.7H445V137.5H444V142.0H443V139.1H442V137.2H441V140.5H440V138.6H439V138.9H438V138.0H437V139.1H436V139.2H435V138.6H434V137.7H433V138.9H432V138.5H431V138.8H430V139.5H429V138.4H428V139.5H427V142.7H426V142.5H425V138.3H424V141.1H423V138.1H422V138.0H421V138.2H420V138.1H419V139.7H418V139.9H417V139.5H416V138.4H415V138.0H414V139.1H413V141.1H412V139.2H411V139.3H410V139.3H409V139.3H408V137.8H407V138.4H406V139.0H405V138.7H404V144.6H403V144.8H402V138.0H401V137.9H400V137.5H399V138.5H398V139.3H397V139.1H396V138.6H395V141.2H394V139.7H393V137.7H392V138.6H391V138.6H390V139.3H389V139.2H388V137.8H387V137.7H386V139.8H385V139.0H384V138.0H383V138.6H382V139.7H381V138.8H380V138.0H379V138.0H378V140.1H377V137.8H376V141.1H375V138.9H374V138.8H373V139.5H372V138.2H371V142.0H370V139.6H369V139.5H368V138.6H367V141.8H366V142.0H365V141.0H364V138.0H363V138.0H362V140.6H361V138.9H360V137.3H359V138.0H358V138.2H357V138.4H356V141.4H355V141.3H354V139.6H353V142.3H352V138.8H351V137.3H350V141.1H349V138.8H348V138.2H347V138.8H346V137.9H345V137.7H344V139.3H343V141.5H342V141.0H341V137.8H340V138.5H339V140.2H338V138.1H337V138.8H336V138.8H335V144.3H334V146.2H333V138.0H332V138.7H331V141.0H330V142.3H329V138.3H328V138.1H327V138.3H326V137.8H325V138.0H324V139.5H323V138.7H322V138.4H321V138.1H320V138.1H319V140.7H318V138.7H317V138.9H316V139.9H315V140.0H314V139.2H313V138.2H312V139.0H311V139.9H310V137.9H309V137.9H308V138.1H307V140.5H306V138.9H305V137.5H304V139.2H303V137.4H302V139.2H301V141.1H300V139.7H299Z" fill="#1f77b4"/>
<path d="M299,128.8H300V128.8H301V128.8H302V128.9H303V129.0H304V128.3H305V129.3H306V129.1H307V128.6H308V129.0H309V129.2H310V128.7H311V128.8H312V128.7H313V129.0H314V128.9H315V128.3H316V129.0H317V128.6H318V129.0H319V128.9H320V128.9H321V128.7H322V129.0H323V128.5H324V128.9H325V128.2H326V128.8H327V129.2H328V128.9H329V128.8H330V128.4H331V129.5H332V129.0H333V127.3H334V127.5H335V128.7H336V129.1H337V128.8H338V128.9H339V129.3H340V129.6H341V129.1H342V128.8H343V128.9H344V129.4H345V128.3H346V128.9H347V129.1H348V128.6H349V128.6H350V128.5H351V129.2H352V129.1H353V128.8H354V128.8H355V129.2H356V128.9H357V128.0H358V128.7H359V129.0H360V128.9H361V128.6H362V128.4H363V128.9H364V128.4H365V129.2H366V128.8H367V128.9H368V129.1H369V128.9H370V128.6H371V128.3H372V128.7H373V128.6H374V129.0H375V129.2H376V128.6H377V128.9H378V128.9H379V128.6H380V128.7H381V129.2H382V128.7H383V129.2H384V128.2H385V128.8H386V128.6H387V128.8H388V127.3H389V127.3H390V128.7H391V128.6H392V128.8H393V129.0H394V129.0H395V128.9H396V129.1H397V128.7H398V128.6H399V129.1H400V128.3H401V128.3H402V128.1H403V128.8H404V128.4H405V128.8H406V129.3H407V128.7H408V129.0H409V129.0H410V129.1H411V128.8H412V129.2H413V129.0H414V128.9H415V129.5H416V128.7H417V128.4H418V128.9H419V128.7H420V128.3H421V128.8H422V128.4H423V128.3H424V128.5H425V127.7H426V127.7H427V128.2H428V129.0H429V129.0H430V128.7H431V129.0H432V129.1H433V128.7H434V129.0H435V128.0H436V129.1H437V129.2H438V128.4H439V129.1H440V127.9H441V127.9H442V128.9H443V128.3H444V129.0H445V128.7H446V129.0H447V128.2H448V128.8H449V128.8H450V129.0H451V128.4H452V128.6H453V128.9H454V129.1H455V128.0H456V127.7H457V129.1H458V128.3H459V129.0H460V128.6H461V128.5H462V128.9H463V128.9H464V128.4H465V128.7H466V128.3H467V128.8H468V128.8H469V128.3H470V129.1H471V128.4H472V128.4H473V129.0H474V129.0H475V128.6H476V129.1H477V128.8H478V129.0H479V128.9H480V129.0H481V128.9H482V128.5H483V129.0H484V128.2H485V128.2H486V129.3H487V128.7H488V128.8H489V128.8H490V128.2H491V128.3H492V128.8H493V128.4H494V129.0H495V128.5H496V129.1H497V129.0H498V128.5H499V128.8H500V129.1H501V128.5H502V127.5H503V127.3H504V128.6H505V129.6H506V132.7H505V133.6H504V132.7H503V133.0H502V132.9H501V132.9H500V132.6H499V133.1H498V132.9H497V132.7H496V133.0H495V133.2H494V133.4H493V134.3H492V132.7H491V132.5H490V132.9H489V133.4H488V133.2H487V133.1H486V133.3H485V133.0H484V133.2H483V132.8H482V133.8H481V133.3H480V133.1H479V133.5H478V132.9H477V132.8H476V132.2H475V133.1H474V132.8H473V133.1H472V132.9H471V132.8H470V133.1H469V132.9H468V132.6H467V132.4H466V133.4H465V133.1H464V132.6H463V133.2H462V132.8H461V132.7H460V132.4H459V132.8H458V133.6H457V133.0H456V133.2H455V133.0H454V132.5H453V132.8H452V133.0H451V133.2H450V133.4H449V133.1H448V133.0H447V133.0H446V133.3H445V133.1H444V133.1H443V132.5H442V133.2H441V133.1H440V133.6H439V132.9H438V133.1H437V133.1H436V133.0H435V132.9H434V133.2H433V133.0H432V132.7H431V133.1H430V133.3H429V133.0H428V132.7H427V133.9H426V133.5H425V132.9H424V133.2H423V133.4H422V132.7H421V133.5H420V132.7H419V132.7H418V132.7H417V132.5H416V133.0H415V132.7H414V133.7H413V132.9H412V133.1H411V133.1H410V132.9H409V133.2H408V132.9H407V132.9H406V132.9H405V132.7H404V133.2H403V132.7H402V133.3H401V133.0H400V132.8H399V134.0H398V133.4H397V132.8H396V132.7H395V133.2H394V133.1H393V133.3H392V132.7H391V133.6H390V132.6H389V132.8H388V133.0H387V132.7H386V133.1H385V132.4H384V133.6H383V132.4H382V132.7H381V132.9H380V132.7H379V133.2H378V133.2H377V133.2H376V132.7H375V132.8H374V133.4H373V133.4H372V133.1H371V132.9H370V133.4H369V133.1H368V133.2H367V132.6H366V132.8H365V133.3H364V133.1H363V132.7H362V132.8H361V132.8H360V133.3H359V134.1H358V133.0H357V132.9H356V132.9H355V133.7H354V132.6H353V133.3H352V133.0H351V133.5H350V132.8H349V133.6H348V134.2H347V133.3H346V132.7H345V132.9H344V133.4H343V132.9H342V133.1H341V133.0H340V132.8H339V132.8H338V133.0H337V133.1H336V132.6H335V133.4H334V132.7H333V132.8H332V133.5H331V132.6H330V132.6H329V133.3H328V133.3H327V132.7H326V133.0H325V132.9H324V132.6H323V132.9H322V132.9H321V132.8H320V132.6H319V132.7H318V132.6H317V132.8H316V133.2H315V132.9H314V132.9H313V133.2H312V133.5H311V132.5H310V133.0H309V132.6H308V133.6H307V133.4H306V132.6H305V133.8H304V133.4H303V133.6H302V133.0H301V133.1H300V132.8H299ZM299,130.8H300V130.8H301V129.8H302V130.1H303V130.9H304V130.7H305V130.9H306V130.6H307V130.4H308V130.8H309V130.5H310V130.6H311V130.7H312V130.5H313V131.0H314V130.3H315V130.7H316V130.4H317V130.8H318V130.6H319V129.9H320V130.3H321V130.9H322V130.2H323V130.7H324V130.8H325V130.3H326V131.4H327V130.5H328V130.3H329V131.1H330V131.0H331V130.6H332V130.9H333V130.8H334V130.6H335V130.6H336V130.8H337V130.6H338V130.7H339V130.3H340V130.3H341V130.8H342V130.3H343V130.5H344V130.5H345V131.0H346V130.9H347V129.8H348V130.2H349V131.1H350V130.2H351V130.9H352V130.5H353V130.5H354V131.0H355V130.7H356V130.5H357V130.6H358V130.5H359V129.8H360V130.1H361V130.9H362V130.6H363V129.9H364V131.1H365V130.7H366V130.6H367V130.4H368V130.5H369V130.5H370V130.2H371V130.5H372V130.4H373V130.6H374V130.7H375V130.4H376V130.5H377V131.2H378V130.9H379V130.7H380V130.7H381V130.6H382V130.8H383V130.6H384V129.6H385V130.9H386V130.6H387V131.0H388V130.5H389V130.8H390V130.5H391V130.9H392V130.9H393V130.7H394V130.9H395V130.1H396V131.1H397V129.8H398V130.8H399V130.4H400V130.7H401V131.1H402V130.6H403V131.0H404V130.4H405V130.4H406V130.5H407V130.8H408V130.9H409V131.2H410V129.9H411V130.8H412V130.8H413V130.5H414V130.5H415V131.1H416V130.5H417V130.1H418V130.9H419V130.8H420V130.6H421V129.9H422V130.6H423V130.3H424V131.1H425V130.6H426V130.7H427V130.3H428V130.5H429V131.0H430V130.4H431V130.9H432V131.1H433V130.6H434V130.9H435V130.7H436V130.8H437V130.4H438V131.3H439V130.1H440V130.6H441V130.5H442V130.1H443V130.1H444V130.1H445V131.2H446V130.5H447V130.2H448V130.9H449V130.9H450V130.5H451V130.6H452V131.0H453V130.2H454V130.8H455V130.0H456V130.8H457V131.1H458V130.3H459V130.2H460V131.1H461V130.4H462V130.8H463V130.7H464V130.8H465V130.6H466V130.4H467V130.4H468V130.4H469V130.8H470V130.3H471V130.1H472V130.6H473V131.3H474V130.6H475V130.4H476V130.7H477V130.8H478V130.9H479V130.9H480V131.1H481V130.5H482V129.9H483V129.7H484V130.4H485V130.2H486V131.2H487V130.7H488V130.6H489V131.0H490V131.3H491V130.9H492V130.8H493V130.8H494V131.3H495V130.6H496V129.1H497V131.0H498V130.8H499V130.7H500V130.8H501V131.0H502V130.7H503V130.9H504V130.5H505V130.4H506V134.7H505V134.7H504V137.1H503V136.9H502V135.1H501V135.1H500V134.8H499V135.1H498V134.8H497V135.0H496V135.0H495V135.4H494V135.1H493V135.1H492V135.1H491V134.6H490V135.2H489V135.2H488V135.0H487V135.5H486V134.8H485V135.7H484V134.9H483V134.3H482V135.5H481V135.0H480V134.6H479V135.4H478V135.6H477V134.7H476V135.5H475V135.2H474V135.3H473V134.9H472V134.9H471V135.3H470V135.3H469V134.7H468V135.0H467V135.1H466V135.2H465V135.1H464V134.7H463V135.0H462V135.6H461V134.8H460V134.7H459V134.9H458V134.9H457V137.1H456V137.0H455V134.7H454V135.0H453V135.2H452V135.7H451V134.7H450V136.1H449V135.1H448V135.5H447V135.3H446V135.3H445V134.5H444V134.9H443V135.5H442V134.9H441V135.4H440V135.8H439V134.7H438V135.1H437V135.5H436V134.3H435V135.3H434V135.4H433V134.8H432V135.1H431V135.3H430V136.3H429V135.2H428V135.2H427V137.1H426V136.9H425V134.8H424V134.5H423V135.8H422V135.0H421V134.9H420V134.5H419V134.7H418V135.0H417V135.0H416V134.7H415V135.5H414V134.9H413V135.0H412V135.3H411V134.5H410V136.0H409V135.4H408V134.9H407V134.9H406V134.8H405V134.9H404V134.9H403V135.0H402V135.3H401V135.2H400V134.8H399V135.1H398V135.5H397V135.5H396V134.8H395V134.9H394V134.5H393V134.8H392V135.3H391V135.6H390V137.1H389V137.0H388V135.9H387V135.8H386V135.1H385V135.1H384V135.4H383V136.0H382V135.1H381V134.9H380V135.2H379V135.6H378V134.8H377V135.1H376V134.8H375V134.6H374V136.0H373V135.2H372V135.3H371V134.5H370V134.9H369V135.1H368V134.9H367V134.9H366V135.5H365V134.9H364V134.9H363V135.2H362V134.7H361V135.7H360V135.4H359V135.3H358V135.9H357V135.3H356V135.1H355V135.0H354V134.9H353V134.6H352V135.7H351V135.3H350V135.2H349V134.6H348V135.5H347V135.4H346V135.4H345V135.6H344V134.7H343V135.1H342V134.6H341V134.8H340V134.8H339V134.9H338V135.1H337V134.6H336V134.8H335V138.1H334V138.2H333V134.9H332V135.2H331V135.0H330V135.1H329V135.2H328V135.2H327V134.7H326V135.0H325V135.3H324V134.8H323V135.5H322V135.3H321V135.1H320V135.5H319V135.5H318V134.6H317V134.7H316V134.7H315V135.8H314V134.9H313V134.9H312V135.2H311V135.1H310V135.6H309V134.5H308V134.7H307V135.6H306V135.0H305V135.6H304V135.1H303V135.3H302V134.9H301V135.3H300V134.6H299Z" fill="#ff7f0e"/>
<path d="M299,130.6H300V130.4H301V130.4H302V130.5H303V130.4H304V130.5H305V130.5H306V130.5H307V130.6H308V130.3H309V130.5H310V130.3H311V130.4H312V130.4H313V130.3H314V130.4H315V130.2H316V130.7H317V130.4H318V130.2H319V130.1H320V130.4H321V130.5H322V130.3H323V130.4H324V130.5H325V130.3H326V130.5H327V130.5H328V130.5H329V130.5H330V130.5H331V130.2H332V130.5H333V130.5H334V130.3H335V130.4H336V130.6H337V130.5H338V130.5H339V130.5H340V130.3H341V130.2H342V130.5H343V130.5H344V130.4H345V130.3H346V130.5H347V130.5H348V130.4H349V130.4H350V130.6H351V130.5H352V130.2H353V130.3H354V130.5H355V130.7H356V130.4H357V130.5H358V130.4H359V130.5H360V130.3H361V130.4H362V130.2H363V130.6H364V130.5H365V130.5H366V130.5H367V130.4H368V130.3H369V130.4H370V130.6H371V130.5H372V130.3H373V130.2H374V130.3H375V130.5H376V130.4H377V130.4H378V130.5H379V130.5H380V130.5H381V130.1H382V130.4H383V130.4H384V130.4H385V130.5H386V130.5H387V130.4H388V127.4H389V127.3H390V130.5H391V130.6H392V130.4H393V130.3H394V130.4H395V130.6H396V130.1H397V130.3H398V130.5H399V130.5H400V130.1H401V130.5H402V130.4H403V130.5H404V130.4H405V130.5H406V130.5H407V130.3H408V130.2H409V130.5H410V130.4H411V130.1H412V130.2H413V130.3H414V130.6H415V130.2H416V130.5H417V130.5H418V130.2H419V130.6H420V130.4H421V130.4H422V130.6H423V130.4H424V130.4H425V130.4H426V130.4H427V130.3H428V130.7H429V130.4H430V130.4H431V130.4H432V130.6H433V130.2H434V130.4H435V130.3H436V130.6H437V130.5H438V130.4H439V130.4H440V130.2H441V130.5H442V130.5H443V130.5H444V130.3H445V130.4H446V130.5H447V130.4H448V130.6H449V130.4H450V130.4H451V130.5H452V130.3H453V130.7H454V130.4H455V130.5H456V130.6H457V130.6H458V130.5H459V130.5H460V130.2H461V130.5H462V130.6H463V130.5H464V130.6H465V130.5H466V130.6H467V130.6H468V130.5H469V130.3H470V130.4H471V130.5H472V130.3H473V130.5H474V130.5H475V130.4H476V130.2H477V130.6H478V130.4H479V130.5H480V130.4H481V130.5H482V130.4H483V130.3H484V130.3H485V130.6H486V130.4H487V130.6H488V130.5H489V130.5H490V130.2H491V130.4H492V130.3H493V130.4H494V130.5H495V130.2H496V130.3H497V130.4H498V130.4H499V130.4H500V130.5H501V130.6H502V130.3H503V130.5H504V130.4H505V130.6H506V132.6H505V132.9H504V132.9H503V132.6H502V132.9H501V132.7H500V132.7H499V132.6H498V132.8H497V132.9H496V132.7H495V132.8H494V132.5H493V132.5H492V132.8H491V132.6H490V132.8H489V132.8H488V132.8H487V132.7H486V132.6H485V133.0H484V132.8H483V132.8H482V132.7H481V132.9H480V132.8H479V132.8H478V132.9H477V132.7H476V132.6H475V132.8H474V132.5H473V132.9H472V132.7H471V132.8H470V132.8H469V132.7H468V132.7H467V132.7H466V132.7H465V133.0H464V133.0H463V132.8H462V132.7H461V132.7H460V132.7H459V132.8H458V132.6H457V132.9H456V132.8H455V132.7H454V132.7H453V132.8H452V132.8H451V132.8H450V132.7H449V132.9H448V132.8H447V132.7H446V132.8H445V132.7H444V132.8H443V133.0H442V132.7H441V132.7H440V132.7H439V132.6H438V132.7H437V132.9H436V132.6H435V133.0H434V132.5H433V132.6H432V133.0H431V132.8H430V132.7H429V132.7H428V132.7H427V132.7H426V132.7H425V132.8H424V132.6H423V132.8H422V132.6H421V132.8H420V132.8H419V132.8H418V132.7H417V132.8H416V132.6H415V132.8H414V132.6H413V132.9H412V133.0H411V132.9H410V132.7H409V132.7H408V132.5H407V132.7H406V132.8H405V132.7H404V132.9H403V132.8H402V132.8H401V132.7H400V132.6H399V132.8H398V132.8H397V132.7H396V132.7H395V132.7H394V132.7H393V132.9H392V132.8H391V132.6H390V132.8H389V132.7H388V132.7H387V132.8H386V132.9H385V132.6H384V132.9H383V132.8H382V132.9H381V132.8H380V132.8H379V132.7H378V132.8H377V132.7H376V132.9H375V132.7H374V132.8H373V132.6H372V132.7H371V132.7H370V132.7H369V132.8H368V132.7H367V132.8H366V132.7H365V132.6H364V132.7H363V132.7H362V132.7H361V132.7H360V132.8H359V132.9H358V132.7H357V132.6H356V132.7H355V132.8H354V132.8H353V133.1H352V132.9H351V132.7H350V132.6H349V132.6H348V132.7H347V132.7H346V132.6H345V132.6H344V132.8H343V132.7H342V132.8H341V132.8H340V132.9H339V132.8H338V132.8H337V132.9H336V132.8H335V132.6H334V132.6H333V132.6H332V132.9H331V132.9H330V132.7H329V132.9H328V133.0H327V132.6H326V132.7H325V132.9H324V132.4H323V132.9H322V132.9H321V132.8H320V132.7H319V132.9H318V132.9H317V132.9H316V132.6H315V132.8H314V132.8H313V132.8H312V132.6H311V132.6H310V132.6H309V132.8H308V132.7H307V133.1H306V132.8H305V132.9H304V132.7H303V133.1H302V132.7H301V132.8H300V132.8H299ZM299,131.5H300V131.5H301V131.5H302V131.4H303V131.4H304V131.5H305V131.3H306V131.2H307V131.4H308V131.3H309V131.6H310V131.5H311V131.5H312V131.6H313V131.5H314V131.5H315V131.5H316V131.5H317V131.6H318V131.1H319V131.2H320V131.4H321V131.6H322V131.5H323V131.6H324V131.6H325V131.6H326V131.6H327V131.4H328V131.4H329V131.5H330V131.5H331V131.5H332V131.6H333V131.7H334V131.5H335V131.7H336V131.7H337V131.5H338V131.5H339V131.5H340V131.5H341V131.6H342V131.6H343V131.6H344V131.4H345V131.4H346V131.5H347V131.5H348V131.1H349V131.7H350V131.4H351V131.5H352V131.5H353V131.6H354V131.4H355V131.7H356V131.4H357V131.4H358V131.4H359V131.6H360V131.5H361V131.4H362V131.5H363V131.5H364V131.7H365V131.6H366V131.6H367V131.4H368V131.5H369V131.6H370V131.5H371V131.3H372V131.4H373V131.5H374V131.6H375V131.3H376V131.7H377V131.5H378V131.5H379V131.5H380V131.5H381V131.5H382V131.5H383V131.6H384V131.3H385V131.3H386V131.4H387V131.6H388V131.4H389V131.4H390V131.6H391V131.4H392V131.5H393V131.6H394V131.4H395V131.6H396V131.6H397V131.5H398V131.5H399V131.1H400V131.6H401V131.4H402V131.3H403V131.5H404V131.5H405V131.5H406V131.5H407V131.5H408V131.6H409V131.3H410V131.5H411V131.2H412V131.5H413V131.6H414V131.6H415V131.4H416V131.6H417V131.3H418V131.6H419V131.4H420V131.6H421V131.5H422V131.5H423V131.4H424V131.4H425V131.6H426V131.6H427V131.4H428V131.3H429V131.6H430V131.6H431V131.5H432V131.4H433V131.4H434V131.3H435V131.6H436V131.5H437V131.3H438V131.4H439V131.5H440V131.5H441V131.6H442V131.7H443V131.5H444V131.4H445V131.6H446V131.4H447V131.5H448V131.4H449V131.5H450V131.6H451V131.5H452V131.6H453V131.4H454V131.2H455V131.5H456V131.4H457V131.4H458V131.1H459V131.5H460V131.4H461V131.5H462V131.4H463V131.5H464V131.5H465V131.5H466V131.4H467V131.3H468V131.5H469V131.4H470V131.5H471V131.6H472V131.5H473V131.2H474V131.4H475V131.6H476V131.5H477V131.5H478V131.2H479V131.4H480V131.5H481V131.6H482V131.5H483V131.6H484V131.4H485V131.6H486V131.5H487V131.5H488V131.5H489V131.6H490V131.6H491V131.7H492V131.4H493V131.4H494V131.3H495V131.3H496V131.4H497V131.4H498V131.3H499V131.3H500V131.3H501V131.4H502V131.6H503V131.5H504V131.5H505V131.7H506V133.5H505V133.6H504V134.0H503V133.8H502V133.7H501V133.9H500V133.7H499V133.7H498V133.8H497V133.9H496V133.7H495V133.8H494V133.8H493V133.8H492V133.9H491V133.7H490V133.7H489V133.8H488V133.8H487V133.7H486V133.9H485V133.7H484V133.9H483V133.8H482V133.7H481V134.1H480V133.9H479V133.8H478V134.0H477V133.9H476V133.9H475V133.8H474V133.8H473V133.7H472V133.7H471V133.6H470V133.8H469V133.9H468V133.7H467V134.1H466V133.7H465V133.7H464V134.0H463V133.8H462V133.6H461V133.8H460V133.8H459V133.6H458V133.7H457V133.9H456V133.8H455V133.6H454V133.6H453V133.7H452V134.0H451V133.8H450V133.9H449V133.7H448V133.8H447V133.6H446V133.9H445V133.7H444V133.9H443V133.7H442V133.8H441V133.8H440V133.9H439V133.7H438V133.8H437V133.6H436V133.7H435V133.9H434V133.9H433V134.0H432V133.7H431V133.8H430V133.8H429V133.9H428V133.9H427V133.8H426V133.8H425V133.8H424V133.8H423V133.7H422V134.0H421V133.7H420V133.6H419V133.9H418V133.8H417V134.0H416V133.7H415V133.8H414V133.9H413V133.8H412V133.8H411V133.8H410V133.7H409V133.5H408V133.9H407V133.7H406V133.6H405V133.9H404V134.0H403V133.8H402V133.6H401V134.0H400V134.0H399V133.8H398V133.6H397V133.9H396V133.8H395V133.8H394V134.0H393V133.7H392V133.8H391V133.6H390V137.1H389V137.1H388V133.8H387V133.6H386V133.7H385V133.7H384V133.5H383V134.0H382V133.8H381V133.9H380V133.6H379V133.8H378V133.8H377V133.7H376V133.9H375V133.8H374V133.8H373V133.6H372V133.8H371V133.7H370V133.7H369V133.9H368V133.8H367V134.2H366V133.8H365V134.0H364V134.0H363V134.0H362V133.7H361V133.6H360V133.8H359V134.0H358V133.8H357V133.8H356V133.8H355V134.0H354V134.0H353V133.9H352V133.8H351V134.1H350V134.0H349V133.7H348V133.8H347V134.0H346V133.7H345V133.7H344V134.0H343V133.9H342V133.8H341V133.6H340V133.7H339V133.7H338V133.9H337V133.9H336V133.6H335V133.9H334V133.9H333V133.8H332V133.7H331V133.8H330V133.6H329V133.9H328V133.8H327V133.8H326V133.8H325V134.1H324V133.8H323V133.8H322V133.5H321V133.7H320V133.8H319V133.7H318V134.0H317V133.9H316V133.8H315V134.0H314V133.9H313V133.7H312V133.8H311V134.0H310V133.8H309V133.9H308V134.0H307V133.6H306V133.9H305V133.7H304V133.9H303V134.0H302V133.9H301V133.9H300V133.8H299Z" fill="#2ca02c"/>
</g>
<path d="M288.5,63.0V209.9" stroke="#000" stroke-opacity="0.8" stroke-width="1"/>
<path d="M515.0,63.0V209.9" stroke="#000" stroke-opacity="0.8" stroke-width="1"/>
<path d="M288.0,63.5H515.5" stroke="#000" stroke-opacity="0.8" stroke-width="1"/>
<path d="M288.0,209.4H515.5" stroke="#000" stroke-opacity="0.8" stroke-width="1"/>
<line x1="299.40" y1="209.4" x2="299.40" y2="212.60" stroke="#000" stroke-opacity="0.8" stroke-width="0.9"/>
<text x="299.40" y="224.40" font-size="13.19" text-anchor="middle" textLength="7.95" lengthAdjust="spacingAndGlyphs" fill="#000">0</text>
<line x1="349.65" y1="209.4" x2="349.65" y2="212.60" stroke="#000" stroke-opacity="0.8" stroke-width="0.9"/>
<text x="349.65" y="224.40" font-size="13.19" text-anchor="middle" textLength="31.81" lengthAdjust="spacingAndGlyphs" fill="#000">2000</text>
<line x1="399.90" y1="209.4" x2="399.90" y2="212.60" stroke="#000" stroke-opacity="0.8" stroke-width="0.9"/>
<text x="399.90" y="224.40" font-size="13.19" text-anchor="middle" textLength="31.81" lengthAdjust="spacingAndGlyphs" fill="#000">4000</text>
<line x1="450.15" y1="209.4" x2="450.15" y2="212.60" stroke="#000" stroke-opacity="0.8" stroke-width="0.9"/>
<text x="450.15" y="224.40" font-size="13.19" text-anchor="middle" textLength="31.81" lengthAdjust="spacingAndGlyphs" fill="#000">6000</text>
<line x1="500.40" y1="209.4" x2="500.40" y2="212.60" stroke="#000" stroke-opacity="0.8" stroke-width="0.9"/>
<text x="500.40" y="224.40" font-size="13.19" text-anchor="middle" textLength="31.81" lengthAdjust="spacingAndGlyphs" fill="#000">8000</text>
<line x1="285.50" y1="88.70" x2="288.5" y2="88.70" stroke="#000" stroke-opacity="0.8" stroke-width="0.9"/>
<line x1="285.50" y1="132.45" x2="288.5" y2="132.45" stroke="#000" stroke-opacity="0.8" stroke-width="0.9"/>
<line x1="285.50" y1="175.45" x2="288.5" y2="175.45" stroke="#000" stroke-opacity="0.8" stroke-width="0.9"/>
<text x="401.75" y="42.80" font-size="14.77" text-anchor="middle" textLength="123.73" lengthAdjust="spacingAndGlyphs" fill="#000">Block-32 Rotation</text>
<text x="401.75" y="58.60" font-size="14.77" text-anchor="middle" textLength="138.48" lengthAdjust="spacingAndGlyphs" fill="#000">Max Range = 1.256</text>
<text x="401.75" y="240.80" font-size="15.30" text-anchor="middle" textLength="20.52" lengthAdjust="spacingAndGlyphs" fill="#000">(d)</text>
<clipPath id="c2"><rect x="526.2" y="63.5" width="226.19999999999993" height="145.9"/></clipPath>
<g clip-path="url(#c2)">
<path d="M536,127.7H537V127.2H538V127.8H539V126.8H540V125.3H541V127.0H542V127.7H543V126.8H544V126.4H545V128.0H546V127.3H547V127.3H548V127.5H549V126.6H550V126.1H551V126.5H552V127.2H553V126.9H554V127.0H555V127.4H556V126.6H557V127.4H558V127.3H559V127.6H560V126.0H561V127.5H562V126.9H563V126.7H564V127.3H565V127.5H566V125.7H567V126.9H568V127.0H569V124.0H570V123.3H571V123.4H572V127.1H573V125.0H574V128.1H575V126.6H576V127.2H577V127.0H578V127.1H579V127.0H580V126.2H581V127.7H582V127.4H583V127.1H584V126.1H585V127.6H586V126.0H587V126.7H588V126.0H589V125.7H590V127.3H591V126.4H592V126.2H593V126.2H594V127.4H595V127.3H596V127.7H597V127.5H598V127.1H599V127.6H600V126.5H601V125.6H602V126.1H603V128.3H604V126.9H605V127.6H606V128.2H607V127.9H608V127.8H609V127.7H610V127.0H611V127.6H612V127.8H613V127.5H614V127.5H615V127.7H616V127.6H617V127.8H618V127.3H619V127.7H620V127.3H621V126.5H622V125.7H623V127.4H624V127.9H625V127.2H626V126.5H627V126.6H628V126.5H629V126.7H630V127.2H631V127.8H632V127.3H633V127.5H634V126.5H635V125.5H636V125.2H637V125.0H638V125.0H639V124.6H640V124.1H641V126.4H642V127.0H643V127.2H644V126.8H645V126.8H646V126.7H647V127.7H648V127.2H649V126.7H650V126.6H651V126.8H652V126.8H653V127.8H654V127.0H655V126.4H656V127.4H657V127.1H658V127.4H659V126.9H660V125.3H661V126.1H662V125.6H663V125.7H664V127.9H665V127.3H666V128.0H667V127.2H668V127.2H669V126.1H670V126.9H671V127.7H672V127.4H673V126.0H674V124.5H675V125.7H676V127.7H677V128.1H678V127.6H679V127.5H680V127.7H681V127.4H682V127.5H683V127.5H684V126.1H685V127.7H686V127.2H687V126.3H688V127.1H689V126.7H690V127.3H691V125.6H692V125.6H693V125.6H694V126.0H695V126.9H696V127.3H697V127.9H698V127.5H699V127.7H700V127.6H701V127.2H702V127.0H703V127.8H704V127.0H705V127.2H706V127.5H707V127.7H708V127.6H709V126.7H710V126.2H711V127.9H712V126.4H713V127.6H714V127.6H715V127.0H716V126.8H717V127.4H718V127.7H719V128.6H720V127.1H721V127.0H722V126.4H723V127.5H724V127.1H725V126.9H726V127.7H727V127.7H728V127.4H729V126.5H730V127.3H731V127.0H732V126.3H733V125.9H734V127.2H735V127.5H736V126.8H737V126.5H738V125.7H739V125.0H740V125.1H741V126.8H742V126.9H743V130.3H742V130.5H741V130.5H740V130.5H739V130.5H738V130.5H737V130.4H736V130.5H735V130.5H734V130.5H733V130.5H732V130.5H731V130.5H730V130.5H729V130.5H728V130.5H727V130.5H726V130.5H725V130.5H724V130.5H723V130.5H722V130.5H721V130.5H720V130.5H719V130.5H718V130.4H717V130.4H716V130.5H715V130.5H714V130.4H713V130.4H712V130.5H711V130.5H710V130.5H709V130.5H708V130.4H707V130.5H706V130.5H705V130.5H704V130.4H703V130.5H702V130.5H701V130.4H700V130.5H699V130.5H698V130.5H697V130.5H696V130.4H695V130.5H694V130.5H693V130.5H692V130.4H691V130.5H690V130.5H689V130.5H688V130.4H687V130.5H686V130.5H685V130.5H684V130.5H683V130.5H682V130.5H681V130.5H680V130.5H679V130.5H678V130.5H677V130.5H676V130.5H675V130.5H674V130.5H673V130.5H672V130.5H671V130.4H670V130.4H669V130.5H668V130.4H667V130.5H666V130.5H665V130.5H664V130.5H663V130.5H662V130.4H661V130.5H660V130.5H659V130.5H658V130.4H657V130.5H656V130.5H655V130.4H654V130.5H653V130.5H652V130.5H651V130.5H650V130.5H649V130.5H648V130.5H647V130.5H646V130.5H645V130.5H644V130.5H643V130.5H642V130.4H641V130.5H640V130.4H639V130.5H638V130.5H637V130.4H636V130.5H635V130.5H634V130.4H633V130.5H632V130.5H631V130.5H630V130.4H629V130.4H628V130.5H627V130.5H626V130.4H625V130.5H624V130.4H623V130.5H622V130.5H621V130.5H620V130.5H619V130.4H618V130.5H617V130.5H616V130.5H615V130.5H614V130.5H613V130.5H612V130.5H611V130.5H610V130.5H609V130.5H608V130.5H607V130.5H606V130.5H605V130.5H604V130.5H603V130.5H602V130.5H601V130.5H600V130.5H599V130.5H598V130.5H597V130.5H596V130.5H595V130.5H594V130.5H593V130.4H592V130.5H591V130.5H590V130.5H589V130.5H588V130.5H587V130.5H586V130.5H585V130.5H584V130.5H583V130.4H582V130.4H581V130.5H580V130.4H579V130.5H578V130.4H577V130.5H576V130.5H575V130.5H574V130.4H573V130.5H572V130.5H571V130.5H570V130.4H569V130.5H568V130.5H567V130.4H566V130.5H565V130.4H564V130.5H563V130.5H562V130.5H561V130.4H560V130.5H559V130.5H558V130.5H557V130.4H556V130.4H555V130.5H554V130.5H553V130.4H552V130.5H551V130.5H550V130.5H549V130.5H548V130.5H547V130.5H546V130.5H545V130.4H544V130.5H543V130.5H542V130.5H541V130.5H540V130.5H539V130.5H538V130.5H537V130.5H536ZM536,134.3H537V134.3H538V134.3H539V134.3H540V134.3H541V134.3H542V134.3H543V134.3H544V134.3H545V134.3H546V134.3H547V134.3H548V134.3H549V134.3H550V134.3H551V134.3H552V134.3H553V134.3H554V134.3H555V134.3H556V134.3H557V134.3H558V134.3H559V134.3H560V134.3H561V134.3H562V134.3H563V134.3H564V134.3H565V134.3H566V134.3H567V134.3H568V134.3H569V134.4H570V134.4H571V134.3H572V134.3H573V134.3H574V134.3H575V134.3H576V134.3H577V134.3H578V134.3H579V134.3H580V134.3H581V134.3H582V134.3H583V134.3H584V134.3H585V134.3H586V134.3H587V134.3H588V134.3H589V134.3H590V134.3H591V134.3H592V134.3H593V134.3H594V134.3H595V134.3H596V134.3H597V134.3H598V134.3H599V134.3H600V134.3H601V134.3H602V134.4H603V134.3H604V134.3H605V134.3H606V134.3H607V134.3H608V134.3H609V134.3H610V134.3H611V134.3H612V134.3H613V134.3H614V134.3H615V134.3H616V134.3H617V134.3H618V134.3H619V134.3H620V134.3H621V134.3H622V134.3H623V134.3H624V134.3H625V134.3H626V134.3H627V134.3H628V134.3H629V134.3H630V134.3H631V134.3H632V134.4H633V134.3H634V134.3H635V134.3H636V134.3H637V134.3H638V134.3H639V134.3H640V134.3H641V134.3H642V134.3H643V134.3H644V134.3H645V134.3H646V134.3H647V134.3H648V134.3H649V134.3H650V134.3H651V134.3H652V134.3H653V134.3H654V134.3H655V134.3H656V134.3H657V134.3H658V134.3H659V134.3H660V134.3H661V134.3H662V134.3H663V134.3H664V134.4H665V134.4H666V134.3H667V134.3H668V134.3H669V134.3H670V134.3H671V134.3H672V134.4H673V134.4H674V134.3H675V134.3H676V134.3H677V134.3H678V134.4H679V134.3H680V134.3H681V134.3H682V134.3H683V134.3H684V134.3H685V134.3H686V134.4H687V134.3H688V134.3H689V134.3H690V134.3H691V134.3H692V134.3H693V134.3H694V134.3H695V134.3H696V134.3H697V134.3H698V134.3H699V134.3H700V134.3H701V134.3H702V134.3H703V134.3H704V134.3H705V134.3H706V134.3H707V134.3H708V134.3H709V134.3H710V134.3H711V134.3H712V134.3H713V134.3H714V134.3H715V134.3H716V134.3H717V134.3H718V134.3H719V134.3H720V134.3H721V134.3H722V134.3H723V134.3H724V134.3H725V134.3H726V134.3H727V134.3H728V134.3H729V134.3H730V134.3H731V134.3H732V134.3H733V134.3H734V134.3H735V134.3H736V134.3H737V134.3H738V134.3H739V134.3H740V134.3H741V134.3H742V134.4H743V136.5H742V137.6H741V139.2H740V139.3H739V139.1H738V138.6H737V137.8H736V138.1H735V137.0H734V137.3H733V137.0H732V137.6H731V139.5H730V138.0H729V137.3H728V138.2H727V136.9H726V137.3H725V137.0H724V139.3H723V137.7H722V138.5H721V138.4H720V136.5H719V137.4H718V138.0H717V138.1H716V137.1H715V137.7H714V137.2H713V136.8H712V136.9H711V136.8H710V138.0H709V137.2H708V136.9H707V137.5H706V137.1H705V138.9H704V137.0H703V137.2H702V137.2H701V137.8H700V137.1H699V137.7H698V136.9H697V137.6H696V138.3H695V138.6H694V138.7H693V138.7H692V138.4H691V137.3H690V137.4H689V137.9H688V136.8H687V137.2H686V136.9H685V137.1H684V137.6H683V137.9H682V137.9H681V137.3H680V137.5H679V137.6H678V137.2H677V138.5H676V137.1H675V136.9H674V136.9H673V137.9H672V136.9H671V139.0H670V138.2H669V138.8H668V136.8H667V137.2H666V136.9H665V138.5H664V138.7H663V138.7H662V137.8H661V137.2H660V137.0H659V137.4H658V137.3H657V137.0H656V136.8H655V137.0H654V137.0H653V136.8H652V136.9H651V136.6H650V137.6H649V137.0H648V137.8H647V137.7H646V137.6H645V138.0H644V136.9H643V136.9H642V139.4H641V140.5H640V140.5H639V137.2H638V136.7H637V137.6H636V137.3H635V137.2H634V136.7H633V137.0H632V136.7H631V137.1H630V138.5H629V138.2H628V138.0H627V138.0H626V136.5H625V137.2H624V137.9H623V137.0H622V137.6H621V137.1H620V136.8H619V136.8H618V137.1H617V136.7H616V137.9H615V137.4H614V138.0H613V136.9H612V138.5H611V137.3H610V137.7H609V137.7H608V138.2H607V137.4H606V136.9H605V137.6H604V137.6H603V137.1H602V137.4H601V137.1H600V136.9H599V136.8H598V137.0H597V136.8H596V137.5H595V137.4H594V136.6H593V137.1H592V136.9H591V137.3H590V139.4H589V136.9H588V137.2H587V138.4H586V137.6H585V138.1H584V137.1H583V137.4H582V137.0H581V136.7H580V138.1H579V138.3H578V137.1H577V137.6H576V137.4H575V136.5H574V138.6H573V137.6H572V139.9H571V139.9H570V139.9H569V137.1H568V137.6H567V137.0H566V136.9H565V137.3H564V137.6H563V137.2H562V137.8H561V137.5H560V136.7H559V136.8H558V137.2H557V137.2H556V137.7H555V136.4H554V137.2H553V137.1H552V138.6H551V137.3H550V137.1H549V138.0H548V137.2H547V136.6H546V137.1H545V137.3H544V136.9H543V137.6H542V138.4H541V137.4H540V138.2H539V137.1H538V137.5H537V137.4H536Z" fill="#1f77b4"/>
<path d="M536,129.0H537V129.2H538V129.2H539V129.1H540V129.0H541V129.1H542V129.1H543V129.2H544V129.1H545V128.8H546V129.2H547V129.2H548V129.3H549V128.9H550V129.1H551V129.1H552V129.2H553V129.0H554V129.2H555V129.0H556V129.1H557V128.7H558V129.1H559V129.1H560V129.1H561V129.1H562V128.8H563V129.0H564V129.1H565V129.3H566V129.1H567V129.0H568V129.3H569V128.1H570V127.9H571V128.0H572V128.9H573V129.2H574V129.2H575V129.2H576V128.7H577V128.8H578V129.3H579V128.8H580V129.2H581V129.0H582V128.9H583V129.0H584V129.1H585V128.9H586V129.1H587V128.9H588V128.9H589V129.1H590V129.3H591V128.9H592V128.8H593V128.9H594V128.7H595V129.3H596V129.1H597V128.9H598V129.2H599V129.2H600V128.9H601V129.1H602V129.1H603V128.9H604V129.2H605V129.0H606V128.9H607V129.0H608V129.0H609V129.0H610V129.1H611V128.8H612V129.0H613V128.9H614V128.8H615V129.2H616V129.0H617V129.2H618V129.2H619V129.1H620V129.0H621V129.1H622V129.1H623V129.2H624V129.3H625V129.0H626V129.1H627V129.3H628V128.9H629V129.2H630V128.8H631V129.1H632V128.9H633V128.8H634V128.8H635V129.3H636V128.8H637V129.2H638V129.2H639V128.9H640V129.1H641V129.1H642V128.9H643V129.1H644V129.1H645V129.0H646V129.2H647V128.9H648V129.2H649V128.7H650V128.9H651V128.6H652V129.1H653V129.2H654V128.6H655V129.2H656V129.0H657V129.2H658V129.1H659V128.6H660V129.0H661V128.2H662V128.0H663V128.1H664V129.1H665V129.1H666V129.0H667V129.0H668V128.9H669V129.1H670V128.9H671V128.9H672V128.9H673V129.1H674V128.9H675V129.1H676V129.2H677V129.3H678V128.9H679V128.9H680V128.9H681V128.9H682V129.2H683V129.1H684V129.1H685V129.0H686V129.2H687V129.2H688V129.1H689V128.9H690V129.1H691V128.7H692V128.1H693V128.0H694V129.0H695V129.1H696V129.1H697V129.1H698V129.2H699V129.0H700V129.0H701V129.0H702V128.7H703V128.8H704V128.9H705V129.1H706V129.1H707V129.1H708V129.1H709V128.8H710V128.7H711V129.3H712V128.9H713V128.8H714V129.2H715V129.1H716V129.0H717V129.1H718V129.2H719V129.1H720V128.9H721V129.1H722V128.9H723V129.0H724V129.1H725V129.1H726V129.0H727V129.0H728V129.4H729V129.1H730V129.1H731V129.3H732V129.0H733V129.1H734V129.1H735V128.8H736V129.3H737V128.9H738V129.1H739V129.0H740V129.2H741V129.2H742V129.1H743V131.4H742V131.5H741V131.6H740V131.6H739V131.7H738V131.7H737V131.7H736V131.6H735V131.8H734V131.7H733V131.5H732V131.4H731V131.6H730V131.8H729V131.6H728V131.6H727V131.6H726V131.8H725V131.7H724V131.7H723V131.7H722V131.8H721V131.5H720V131.7H719V131.6H718V131.5H717V131.4H716V131.8H715V131.9H714V131.8H713V132.0H712V131.7H711V131.7H710V131.6H709V131.6H708V131.6H707V131.4H706V131.5H705V131.5H704V131.8H703V131.5H702V131.4H701V131.8H700V131.6H699V131.7H698V131.5H697V131.5H696V131.6H695V131.6H694V131.2H693V131.9H692V131.7H691V131.8H690V131.7H689V131.6H688V131.6H687V131.8H686V131.5H685V131.7H684V131.6H683V131.7H682V131.8H681V131.4H680V131.6H679V131.6H678V131.6H677V131.7H676V131.6H675V131.9H674V131.6H673V131.7H672V131.6H671V131.6H670V131.5H669V131.7H668V131.9H667V131.3H666V131.5H665V131.6H664V131.9H663V131.4H662V131.5H661V131.9H660V131.7H659V131.6H658V131.6H657V131.8H656V131.5H655V131.5H654V131.8H653V131.6H652V131.6H651V131.7H650V131.8H649V131.5H648V131.9H647V131.3H646V132.1H645V131.8H644V131.7H643V131.6H642V131.6H641V131.8H640V131.6H639V131.7H638V131.6H637V131.8H636V131.4H635V131.5H634V131.7H633V131.4H632V131.5H631V131.7H630V132.0H629V131.5H628V131.7H627V131.4H626V131.7H625V131.9H624V131.6H623V131.4H622V131.7H621V131.5H620V131.7H619V131.7H618V131.8H617V131.5H616V131.9H615V131.7H614V131.8H613V131.6H612V131.6H611V131.6H610V131.7H609V131.5H608V131.7H607V131.7H606V131.5H605V131.8H604V131.5H603V131.8H602V131.7H601V131.6H600V131.4H599V131.8H598V131.7H597V132.0H596V132.1H595V131.5H594V131.5H593V131.5H592V131.7H591V131.9H590V131.5H589V131.7H588V131.5H587V131.7H586V131.6H585V131.6H584V131.8H583V131.8H582V131.6H581V131.8H580V131.7H579V132.0H578V131.4H577V131.6H576V131.6H575V131.6H574V131.5H573V131.6H572V131.7H571V131.4H570V131.6H569V131.5H568V131.7H567V131.5H566V131.7H565V131.7H564V131.5H563V131.6H562V131.5H561V131.7H560V131.5H559V131.5H558V131.6H557V131.7H556V131.5H555V131.7H554V131.6H553V131.6H552V131.8H551V131.5H550V131.6H549V131.7H548V131.5H547V131.4H546V131.7H545V131.5H544V131.5H543V131.8H542V131.8H541V131.5H540V131.6H539V131.9H538V131.6H537V131.9H536ZM536,131.6H537V131.6H538V132.1H539V132.2H540V132.1H541V131.7H542V131.9H543V131.9H544V132.4H545V132.1H546V132.0H547V132.2H548V131.5H549V131.7H550V132.2H551V132.0H552V132.2H553V132.2H554V132.0H555V132.2H556V132.3H557V132.2H558V131.9H559V131.9H560V131.8H561V132.0H562V131.6H563V131.8H564V131.7H565V131.7H566V131.9H567V131.7H568V132.3H569V131.9H570V131.5H571V131.9H572V131.7H573V131.5H574V131.6H575V131.7H576V132.2H577V131.8H578V132.2H579V131.7H580V131.9H581V131.8H582V132.1H583V132.0H584V132.3H585V131.5H586V131.7H587V131.8H588V131.8H589V131.8H590V131.7H591V131.9H592V132.1H593V132.0H594V131.6H595V132.3H596V131.9H597V131.8H598V132.2H599V132.2H600V132.1H601V132.2H602V132.1H603V132.2H604V132.1H605V132.0H606V131.8H607V132.1H608V131.5H609V132.0H610V132.5H611V132.5H612V131.7H613V132.0H614V131.9H615V131.9H616V132.0H617V131.8H618V132.1H619V131.5H620V132.3H621V132.1H622V131.7H623V131.6H624V131.5H625V131.6H626V131.6H627V131.6H628V132.0H629V132.0H630V132.0H631V131.7H632V132.1H633V132.0H634V132.0H635V131.8H636V131.7H637V132.0H638V131.9H639V131.9H640V131.9H641V131.9H642V131.6H643V132.0H644V131.9H645V132.3H646V131.9H647V132.3H648V132.0H649V132.1H650V132.0H651V132.1H652V132.1H653V131.4H654V132.1H655V131.8H656V132.0H657V132.1H658V132.0H659V131.7H660V132.2H661V132.0H662V132.0H663V132.4H664V131.8H665V131.9H666V131.7H667V131.7H668V131.6H669V132.4H670V131.8H671V132.3H672V132.1H673V132.0H674V131.8H675V132.1H676V131.8H677V132.1H678V131.8H679V131.5H680V131.8H681V132.0H682V131.5H683V132.0H684V132.3H685V132.0H686V132.2H687V132.0H688V131.6H689V132.0H690V132.0H691V131.5H692V131.9H693V131.8H694V131.6H695V132.3H696V132.5H697V132.1H698V131.6H699V131.8H700V132.2H701V131.9H702V131.7H703V131.5H704V131.6H705V132.1H706V132.0H707V131.8H708V131.9H709V132.1H710V131.9H711V132.0H712V132.0H713V132.0H714V132.0H715V132.0H716V132.0H717V132.0H718V132.2H719V132.0H720V132.1H721V131.7H722V131.3H723V131.9H724V131.9H725V131.5H726V132.1H727V132.2H728V132.2H729V132.0H730V132.2H731V132.0H732V131.4H733V131.9H734V131.9H735V132.1H736V132.0H737V132.2H738V131.8H739V131.7H740V132.2H741V131.8H742V132.1H743V134.7H742V135.6H741V135.3H740V135.7H739V135.3H738V135.1H737V135.2H736V135.0H735V135.1H734V135.1H733V135.5H732V135.4H731V134.9H730V135.4H729V135.7H728V135.5H727V135.5H726V135.7H725V135.0H724V135.4H723V135.4H722V135.7H721V134.9H720V135.7H719V135.0H718V135.8H717V135.5H716V135.2H715V135.9H714V135.4H713V135.0H712V135.1H711V135.1H710V135.2H709V135.2H708V135.1H707V135.6H706V135.5H705V134.9H704V135.6H703V135.3H702V134.9H701V135.4H700V135.3H699V135.8H698V135.2H697V135.0H696V135.3H695V135.2H694V136.0H693V135.8H692V135.5H691V135.5H690V135.3H689V135.1H688V135.2H687V135.0H686V135.3H685V135.3H684V135.2H683V135.4H682V134.9H681V135.0H680V135.4H679V135.1H678V135.4H677V135.2H676V135.1H675V135.3H674V135.6H673V135.1H672V135.7H671V135.2H670V135.2H669V135.3H668V135.0H667V135.3H666V135.2H665V135.7H664V135.9H663V136.0H662V136.0H661V135.0H660V135.3H659V135.2H658V135.6H657V134.9H656V135.4H655V135.2H654V135.4H653V135.4H652V135.1H651V135.7H650V135.2H649V135.5H648V135.5H647V135.2H646V135.2H645V135.3H644V135.3H643V135.5H642V135.6H641V135.4H640V135.5H639V135.6H638V135.3H637V135.5H636V135.4H635V136.0H634V135.3H633V135.3H632V134.8H631V135.6H630V135.2H629V135.4H628V135.2H627V135.1H626V135.2H625V135.4H624V135.3H623V135.1H622V135.4H621V135.3H620V135.3H619V135.0H618V135.1H617V135.4H616V135.0H615V135.7H614V135.3H613V135.4H612V135.1H611V135.5H610V135.4H609V135.4H608V135.4H607V135.4H606V135.2H605V135.1H604V135.1H603V135.2H602V135.2H601V135.1H600V135.2H599V135.0H598V135.2H597V135.1H596V135.0H595V135.1H594V135.3H593V135.7H592V134.9H591V135.4H590V135.6H589V135.3H588V135.1H587V135.2H586V135.4H585V135.6H584V135.1H583V135.4H582V135.3H581V135.6H580V135.2H579V135.5H578V134.9H577V135.2H576V135.2H575V135.1H574V135.3H573V135.6H572V135.8H571V135.9H570V135.9H569V135.5H568V135.1H567V135.3H566V135.2H565V135.1H564V135.7H563V135.4H562V135.4H561V135.1H560V135.3H559V135.4H558V135.3H557V135.1H556V134.9H555V135.4H554V135.5H553V135.7H552V135.1H551V135.4H550V135.3H549V135.0H548V135.1H547V134.8H546V135.5H545V135.0H544V135.3H543V135.9H542V135.5H541V134.9H540V135.1H539V135.3H538V134.9H537V135.1H536Z" fill="#ff7f0e"/>
<path d="M536,131.1H537V131.2H538V130.9H539V130.8H540V131.1H541V131.0H542V131.1H543V130.9H544V130.9H545V131.1H546V131.1H547V131.1H548V131.0H549V130.9H550V131.1H551V131.0H552V131.1H553V131.2H554V130.8H555V131.0H556V131.1H557V131.0H558V131.0H559V130.9H560V131.1H561V130.9H562V131.1H563V130.8H564V131.2H565V131.0H566V131.0H567V131.1H568V131.0H569V131.1H570V131.1H571V131.1H572V131.0H573V131.1H574V131.1H575V130.9H576V131.0H577V131.1H578V131.1H579V131.0H580V131.1H581V131.0H582V131.0H583V131.0H584V131.0H585V131.1H586V131.1H587V131.0H588V131.1H589V131.1H590V131.1H591V131.0H592V131.1H593V130.9H594V131.0H595V130.9H596V131.1H597V131.1H598V131.1H599V131.1H600V131.1H601V131.2H602V130.9H603V131.1H604V130.9H605V131.0H606V131.0H607V131.0H608V130.9H609V131.0H610V131.1H611V130.8H612V131.0H613V130.9H614V131.0H615V131.0H616V131.1H617V131.1H618V131.1H619V131.1H620V130.9H621V131.1H622V130.9H623V131.1H624V131.1H625V131.2H626V128.9H627V128.4H628V128.4H629V128.6H630V131.0H631V131.0H632V131.1H633V131.2H634V131.1H635V130.8H636V130.9H637V130.9H638V131.1H639V131.0H640V130.9H641V131.1H642V130.9H643V130.9H644V131.1H645V130.9H646V131.0H647V130.8H648V131.1H649V131.1H650V130.9H651V131.1H652V131.0H653V131.0H654V131.0H655V130.8H656V131.1H657V131.1H658V131.1H659V131.0H660V131.0H661V130.9H662V131.1H663V131.0H664V131.1H665V131.1H666V131.0H667V131.2H668V131.0H669V131.2H670V131.0H671V131.2H672V131.1H673V131.0H674V131.2H675V130.9H676V131.0H677V131.0H678V131.1H679V130.9H680V131.1H681V131.1H682V131.0H683V131.0H684V131.1H685V131.0H686V131.0H687V131.0H688V130.9H689V130.8H690V131.1H691V131.1H692V131.1H693V131.0H694V131.0H695V130.9H696V131.1H697V130.9H698V130.9H699V131.0H700V131.1H701V131.0H702V131.0H703V131.0H704V130.9H705V131.1H706V131.0H707V131.1H708V131.0H709V131.1H710V131.1H711V131.2H712V131.1H713V130.9H714V131.1H715V131.1H716V131.1H717V131.1H718V131.0H719V131.0H720V131.0H721V131.1H722V131.0H723V131.1H724V131.0H725V131.1H726V131.1H727V130.7H728V131.2H729V131.1H730V131.0H731V131.2H732V131.0H733V131.1H734V131.0H735V131.0H736V131.0H737V131.2H738V130.8H739V131.0H740V130.9H741V130.9H742V131.2H743V133.1H742V133.2H741V133.0H740V133.1H739V133.2H738V133.1H737V133.0H736V133.2H735V133.2H734V133.1H733V133.2H732V133.4H731V133.2H730V133.1H729V133.2H728V133.1H727V133.3H726V133.0H725V133.0H724V133.1H723V133.1H722V133.2H721V133.1H720V133.2H719V133.0H718V133.1H717V133.3H716V133.2H715V133.2H714V133.0H713V133.1H712V133.4H711V133.2H710V133.2H709V133.4H708V133.3H707V133.3H706V133.1H705V133.2H704V133.2H703V133.3H702V133.3H701V133.3H700V133.4H699V133.1H698V133.1H697V133.0H696V133.1H695V133.2H694V133.0H693V133.0H692V133.3H691V133.2H690V133.1H689V133.2H688V133.2H687V133.2H686V133.3H685V133.3H684V133.1H683V133.2H682V133.1H681V133.3H680V133.4H679V133.1H678V133.3H677V132.9H676V133.2H675V133.2H674V133.1H673V133.2H672V133.2H671V133.1H670V133.1H669V133.1H668V133.2H667V133.2H666V133.2H665V133.2H664V133.2H663V133.3H662V133.1H661V133.1H660V133.3H659V133.1H658V133.2H657V133.2H656V133.3H655V133.2H654V133.1H653V133.0H652V133.1H651V133.2H650V133.3H649V133.0H648V133.3H647V133.3H646V133.1H645V133.3H644V133.3H643V133.1H642V133.2H641V133.3H640V133.2H639V133.2H638V133.2H637V133.2H636V133.2H635V133.2H634V133.2H633V133.3H632V133.2H631V133.0H630V133.1H629V133.2H628V133.2H627V133.2H626V133.1H625V133.1H624V133.2H623V133.1H622V133.1H621V133.4H620V133.2H619V133.1H618V133.2H617V133.4H616V133.2H615V133.3H614V133.2H613V133.2H612V133.2H611V133.3H610V133.3H609V133.1H608V133.3H607V133.1H606V133.3H605V133.1H604V133.4H603V133.3H602V133.3H601V133.3H600V133.1H599V133.1H598V133.1H597V133.1H596V133.2H595V133.2H594V133.1H593V133.1H592V133.2H591V133.3H590V133.2H589V133.2H588V133.1H587V133.1H586V133.2H585V133.2H584V133.1H583V133.1H582V133.0H581V133.2H580V133.1H579V133.1H578V133.1H577V133.1H576V133.1H575V133.3H574V133.1H573V133.2H572V133.0H571V133.1H570V133.2H569V133.1H568V133.3H567V133.3H566V133.1H565V133.1H564V133.3H563V133.0H562V133.1H561V133.0H560V133.2H559V133.2H558V133.1H557V133.1H556V133.2H555V133.2H554V133.1H553V133.1H552V133.2H551V133.2H550V133.2H549V133.3H548V133.3H547V133.2H546V133.2H545V133.3H544V133.0H543V133.3H542V133.1H541V133.1H540V133.2H539V133.2H538V133.3H537V133.2H536ZM536,131.5H537V131.8H538V131.7H539V131.9H540V131.8H541V131.7H542V131.8H543V131.8H544V131.8H545V131.5H546V131.5H547V131.7H548V131.8H549V131.7H550V131.7H551V131.8H552V131.7H553V131.7H554V131.7H555V131.9H556V131.8H557V131.8H558V131.7H559V131.7H560V131.8H561V131.6H562V131.9H563V131.7H564V131.9H565V131.7H566V131.7H567V131.7H568V131.7H569V131.7H570V131.8H571V131.7H572V131.7H573V131.9H574V131.9H575V131.6H576V131.7H577V131.8H578V131.9H579V131.6H580V131.9H581V131.6H582V131.9H583V131.7H584V131.6H585V131.7H586V131.8H587V131.7H588V131.6H589V131.7H590V131.8H591V131.7H592V131.8H593V131.7H594V131.8H595V131.7H596V131.8H597V131.8H598V131.7H599V131.4H600V131.7H601V131.9H602V131.6H603V131.5H604V131.7H605V131.7H606V131.6H607V131.8H608V131.7H609V131.8H610V131.8H611V131.7H612V131.9H613V131.9H614V131.7H615V131.3H616V131.6H617V131.7H618V131.8H619V131.9H620V131.7H621V131.9H622V131.6H623V131.7H624V131.6H625V131.8H626V131.7H627V131.9H628V131.8H629V131.8H630V131.7H631V131.6H632V131.5H633V131.7H634V131.7H635V131.8H636V131.7H637V131.8H638V131.8H639V131.9H640V131.7H641V131.8H642V131.8H643V131.7H644V131.8H645V131.6H646V131.9H647V131.8H648V131.9H649V131.9H650V131.7H651V131.5H652V131.5H653V131.8H654V131.6H655V131.7H656V131.8H657V131.7H658V131.8H659V131.9H660V131.7H661V131.8H662V131.7H663V131.6H664V131.7H665V131.7H666V131.7H667V131.7H668V131.8H669V131.6H670V131.8H671V131.5H672V131.8H673V131.7H674V131.5H675V131.7H676V131.8H677V132.0H678V131.9H679V131.8H680V131.8H681V131.8H682V131.6H683V131.9H684V131.7H685V131.9H686V131.8H687V131.7H688V131.7H689V131.9H690V131.6H691V131.8H692V131.7H693V131.8H694V131.7H695V131.5H696V131.8H697V131.7H698V131.7H699V131.8H700V131.8H701V131.8H702V131.7H703V131.7H704V131.8H705V131.8H706V131.7H707V131.8H708V131.9H709V131.8H710V131.7H711V131.9H712V131.7H713V131.9H714V131.5H715V131.8H716V131.7H717V131.8H718V131.8H719V131.7H720V131.6H721V131.8H722V131.9H723V131.8H724V131.9H725V131.7H726V131.7H727V131.7H728V131.7H729V131.8H730V131.7H731V131.9H732V131.9H733V131.8H734V131.8H735V131.9H736V131.8H737V131.5H738V131.7H739V131.7H740V131.6H741V131.8H742V131.9H743V133.7H742V133.7H741V133.8H740V134.0H739V133.9H738V133.9H737V133.8H736V133.9H735V133.8H734V133.9H733V134.0H732V134.0H731V134.0H730V133.8H729V133.9H728V133.8H727V133.8H726V133.9H725V134.0H724V133.8H723V134.0H722V133.7H721V133.9H720V133.9H719V134.0H718V133.8H717V133.9H716V133.8H715V134.0H714V133.8H713V133.8H712V133.8H711V133.9H710V134.0H709V133.9H708V133.9H707V133.9H706V133.8H705V134.0H704V134.0H703V133.9H702V133.9H701V133.9H700V133.9H699V133.8H698V134.1H697V134.0H696V133.9H695V134.1H694V133.8H693V133.9H692V133.9H691V133.9H690V133.9H689V133.8H688V133.8H687V133.9H686V133.9H685V134.1H684V133.9H683V133.7H682V133.8H681V134.0H680V133.8H679V134.0H678V134.0H677V133.8H676V133.9H675V133.8H674V133.8H673V133.7H672V133.9H671V133.9H670V133.8H669V133.8H668V133.8H667V133.9H666V133.7H665V133.8H664V133.8H663V134.0H662V133.9H661V133.8H660V133.9H659V134.0H658V133.9H657V133.8H656V133.8H655V133.9H654V133.9H653V133.8H652V133.9H651V134.0H650V133.8H649V133.9H648V133.8H647V133.9H646V133.8H645V133.9H644V133.8H643V133.7H642V133.8H641V134.0H640V133.8H639V133.8H638V133.8H637V133.7H636V133.7H635V133.8H634V133.9H633V133.9H632V133.7H631V133.9H630V135.3H629V135.3H628V135.3H627V135.2H626V134.0H625V133.9H624V133.9H623V133.9H622V134.1H621V133.9H620V133.9H619V133.9H618V133.9H617V134.0H616V134.0H615V133.9H614V133.8H613V134.0H612V133.8H611V133.7H610V133.9H609V133.9H608V134.0H607V133.9H606V134.0H605V133.8H604V133.8H603V133.8H602V133.9H601V133.8H600V133.8H599V133.7H598V133.9H597V134.0H596V134.2H595V134.0H594V133.8H593V133.9H592V133.8H591V133.8H590V133.9H589V133.9H588V133.9H587V133.9H586V133.9H585V133.8H584V133.9H583V133.8H582V133.8H581V133.7H580V133.9H579V133.9H578V134.0H577V133.8H576V133.8H575V133.7H574V133.9H573V133.8H572V134.0H571V133.8H570V133.9H569V134.1H568V133.8H567V133.9H566V133.9H565V133.8H564V133.8H563V133.7H562V133.8H561V133.9H560V133.7H559V133.8H558V133.9H557V133.9H556V133.9H555V133.9H554V133.8H553V133.9H552V133.8H551V133.8H550V133.9H549V134.0H548V133.8H547V133.9H546V133.9H545V133.9H544V133.8H543V133.9H542V133.7H541V133.9H540V133.9H539V133.9H538V133.8H537V133.7H536Z" fill="#2ca02c"/>
</g>
<path d="M526.2,63.0V209.9" stroke="#000" stroke-opacity="0.8" stroke-width="1"/>
<path d="M752.4,63.0V209.9" stroke="#000" stroke-opacity="0.8" stroke-width="1"/>
<path d="M525.7,63.5H752.9" stroke="#000" stroke-opacity="0.8" stroke-width="1"/>
<path d="M525.7,209.4H752.9" stroke="#000" stroke-opacity="0.8" stroke-width="1"/>
<line x1="536.45" y1="209.4" x2="536.45" y2="212.60" stroke="#000" stroke-opacity="0.8" stroke-width="0.9"/>
<text x="536.45" y="224.40" font-size="13.19" text-anchor="middle" textLength="7.95" lengthAdjust="spacingAndGlyphs" fill="#000">0</text>
<line x1="586.70" y1="209.4" x2="586.70" y2="212.60" stroke="#000" stroke-opacity="0.8" stroke-width="0.9"/>
<text x="586.70" y="224.40" font-size="13.19" text-anchor="middle" textLength="31.81" lengthAdjust="spacingAndGlyphs" fill="#000">2000</text>
<line x1="636.95" y1="209.4" x2="636.95" y2="212.60" stroke="#000" stroke-opacity="0.8" stroke-width="0.9"/>
<text x="636.95" y="224.40" font-size="13.19" text-anchor="middle" textLength="31.81" lengthAdjust="spacingAndGlyphs" fill="#000">4000</text>
<line x1="687.20" y1="209.4" x2="687.20" y2="212.60" stroke="#000" stroke-opacity="0.8" stroke-width="0.9"/>
<text x="687.20" y="224.40" font-size="13.19" text-anchor="middle" textLength="31.81" lengthAdjust="spacingAndGlyphs" fill="#000">6000</text>
<line x1="737.45" y1="209.4" x2="737.45" y2="212.60" stroke="#000" stroke-opacity="0.8" stroke-width="0.9"/>
<text x="737.45" y="224.40" font-size="13.19" text-anchor="middle" textLength="31.81" lengthAdjust="spacingAndGlyphs" fill="#000">8000</text>
<line x1="523.20" y1="88.70" x2="526.2" y2="88.70" stroke="#000" stroke-opacity="0.8" stroke-width="0.9"/>
<line x1="523.20" y1="132.45" x2="526.2" y2="132.45" stroke="#000" stroke-opacity="0.8" stroke-width="0.9"/>
<line x1="523.20" y1="175.45" x2="526.2" y2="175.45" stroke="#000" stroke-opacity="0.8" stroke-width="0.9"/>
<text x="639.30" y="42.80" font-size="14.77" text-anchor="middle" textLength="132.64" lengthAdjust="spacingAndGlyphs" fill="#000">Block-128 Rotation</text>
<text x="639.30" y="58.60" font-size="14.77" text-anchor="middle" textLength="138.48" lengthAdjust="spacingAndGlyphs" fill="#000">Max Range = 0.754</text>
<text x="639.30" y="240.80" font-size="15.30" text-anchor="middle" textLength="19.29" lengthAdjust="spacingAndGlyphs" fill="#000">(c)</text>
<clipPath id="c3"><rect x="763.6" y="63.5" width="225.85000000000002" height="145.9"/></clipPath>
<g clip-path="url(#c3)">
<path d="M773,128.2H774V128.3H775V128.3H776V127.9H777V127.7H778V128.1H779V127.9H780V128.0H781V128.1H782V127.5H783V128.0H784V127.4H785V128.0H786V127.8H787V128.1H788V128.0H789V127.9H790V128.1H791V127.6H792V128.1H793V127.8H794V127.9H795V128.0H796V127.9H797V128.1H798V127.6H799V127.8H800V127.9H801V128.0H802V128.0H803V128.1H804V127.8H805V127.4H806V127.8H807V127.7H808V127.9H809V127.6H810V127.7H811V127.7H812V128.1H813V127.8H814V127.8H815V128.2H816V127.9H817V127.8H818V127.9H819V127.8H820V127.5H821V127.8H822V127.8H823V127.7H824V128.4H825V127.5H826V127.6H827V128.0H828V128.3H829V127.8H830V127.9H831V127.9H832V127.9H833V128.0H834V128.1H835V128.0H836V127.9H837V127.9H838V127.9H839V127.8H840V127.9H841V127.8H842V127.5H843V127.7H844V127.7H845V127.6H846V127.7H847V128.0H848V127.8H849V128.0H850V127.5H851V128.0H852V127.9H853V127.8H854V127.7H855V127.8H856V128.0H857V127.3H858V127.9H859V127.7H860V128.1H861V127.6H862V127.8H863V127.5H864V127.9H865V128.1H866V127.9H867V128.0H868V127.7H869V127.8H870V128.0H871V127.5H872V128.1H873V128.0H874V128.0H875V127.6H876V127.8H877V128.3H878V127.9H879V127.8H880V128.4H881V127.5H882V127.7H883V127.8H884V127.9H885V127.8H886V127.9H887V128.0H888V127.7H889V127.9H890V127.6H891V127.4H892V127.8H893V127.8H894V128.2H895V127.6H896V127.9H897V128.2H898V128.1H899V127.6H900V128.0H901V127.3H902V128.1H903V128.2H904V127.7H905V127.5H906V127.8H907V127.7H908V127.9H909V127.9H910V128.0H911V128.0H912V128.1H913V128.1H914V127.8H915V127.9H916V128.0H917V128.1H918V128.3H919V127.7H920V127.8H921V127.7H922V128.0H923V128.0H924V127.8H925V128.0H926V128.0H927V127.7H928V127.9H929V127.8H930V127.9H931V128.0H932V127.5H933V127.7H934V128.2H935V127.8H936V128.0H937V128.0H938V128.3H939V128.0H940V128.1H941V128.0H942V128.1H943V127.2H944V127.9H945V127.9H946V128.0H947V128.0H948V127.9H949V128.0H950V128.0H951V128.2H952V127.8H953V127.8H954V128.1H955V127.7H956V128.0H957V128.1H958V127.6H959V128.1H960V128.1H961V128.0H962V127.9H963V128.2H964V127.9H965V128.1H966V127.4H967V128.1H968V127.4H969V127.9H970V127.6H971V128.0H972V128.0H973V127.6H974V128.0H975V127.9H976V128.1H977V127.7H978V127.7H979V128.5H980V130.8H979V131.0H978V130.9H977V130.9H976V131.4H975V131.4H974V131.0H973V131.0H972V131.2H971V130.8H970V131.7H969V131.2H968V131.8H967V131.0H966V131.0H965V131.0H964V131.1H963V131.0H962V131.2H961V130.9H960V131.7H959V131.0H958V131.1H957V130.8H956V130.9H955V130.9H954V131.0H953V131.0H952V131.1H951V131.2H950V130.8H949V131.1H948V131.6H947V131.0H946V131.1H945V131.3H944V131.3H943V130.9H942V131.1H941V131.5H940V131.0H939V131.2H938V131.0H937V131.1H936V130.8H935V131.0H934V131.1H933V131.0H932V131.3H931V131.0H930V131.0H929V131.3H928V131.3H927V131.0H926V130.9H925V131.3H924V130.7H923V131.2H922V131.8H921V131.3H920V131.2H919V130.9H918V131.5H917V131.3H916V131.1H915V130.8H914V131.1H913V131.2H912V131.0H911V131.6H910V130.9H909V131.4H908V131.1H907V131.4H906V131.4H905V131.0H904V131.0H903V130.8H902V131.3H901V131.6H900V130.9H899V131.2H898V131.0H897V131.1H896V131.4H895V130.9H894V130.9H893V131.0H892V130.9H891V131.3H890V130.9H889V131.2H888V131.5H887V131.3H886V131.1H885V130.8H884V130.9H883V131.4H882V130.9H881V131.1H880V131.1H879V131.3H878V131.2H877V131.6H876V130.7H875V131.7H874V131.6H873V131.0H872V131.3H871V131.5H870V131.0H869V130.9H868V131.2H867V131.2H866V131.3H865V131.2H864V131.0H863V131.2H862V131.3H861V130.7H860V131.3H859V130.9H858V131.1H857V131.1H856V131.1H855V131.0H854V131.1H853V131.3H852V131.3H851V130.9H850V131.0H849V131.0H848V130.9H847V131.3H846V131.1H845V131.1H844V130.7H843V131.1H842V130.7H841V131.5H840V131.0H839V131.0H838V130.8H837V130.9H836V130.7H835V131.2H834V131.2H833V131.1H832V131.4H831V130.8H830V131.6H829V131.0H828V131.1H827V131.3H826V131.1H825V131.1H824V131.0H823V130.9H822V131.4H821V131.4H820V131.2H819V131.6H818V131.1H817V131.0H816V130.9H815V131.4H814V131.3H813V131.3H812V130.7H811V130.9H810V131.0H809V130.9H808V131.1H807V131.4H806V130.8H805V130.9H804V131.3H803V131.2H802V131.0H801V131.2H800V131.0H799V131.7H798V131.3H797V131.2H796V131.3H795V131.2H794V131.5H793V130.9H792V131.3H791V131.1H790V131.0H789V131.1H788V131.2H787V130.6H786V131.1H785V131.0H784V131.1H783V131.2H782V131.0H781V130.9H780V131.1H779V131.1H778V131.0H777V131.0H776V131.2H775V131.1H774V130.7H773ZM773,133.9H774V133.1H775V133.5H776V133.4H777V133.3H778V133.3H779V133.2H780V133.6H781V133.1H782V133.6H783V133.5H784V133.6H785V133.5H786V132.8H787V133.5H788V133.5H789V133.7H790V132.9H791V133.4H792V133.5H793V133.2H794V133.0H795V133.4H796V133.4H797V133.3H798V133.2H799V133.2H800V133.6H801V133.4H802V133.5H803V133.2H804V133.3H805V133.5H806V133.8H807V133.8H808V133.2H809V133.1H810V133.4H811V133.3H812V133.5H813V133.2H814V133.7H815V133.3H816V133.2H817V133.3H818V133.3H819V133.4H820V133.5H821V133.4H822V133.5H823V133.4H824V133.7H825V133.7H826V133.2H827V133.4H828V133.3H829V133.6H830V133.5H831V133.2H832V133.3H833V133.5H834V133.1H835V133.5H836V133.2H837V133.6H838V133.5H839V133.0H840V133.0H841V133.4H842V133.3H843V133.5H844V133.5H845V133.6H846V133.5H847V133.5H848V133.4H849V133.6H850V133.5H851V133.5H852V133.2H853V133.1H854V133.1H855V133.4H856V133.6H857V133.4H858V133.6H859V133.4H860V133.5H861V133.2H862V133.2H863V133.7H864V133.2H865V133.1H866V133.6H867V133.0H868V133.5H869V133.3H870V133.6H871V133.7H872V133.7H873V133.6H874V133.6H875V133.7H876V133.7H877V133.2H878V133.1H879V132.9H880V132.9H881V133.5H882V133.4H883V133.5H884V133.3H885V133.5H886V133.6H887V133.4H888V133.3H889V133.3H890V133.1H891V133.5H892V132.9H893V133.6H894V133.5H895V133.7H896V133.7H897V133.3H898V133.1H899V133.5H900V133.3H901V133.5H902V133.3H903V133.2H904V133.6H905V133.4H906V133.3H907V133.4H908V133.4H909V133.1H910V133.5H911V133.5H912V133.1H913V133.5H914V133.3H915V133.2H916V133.5H917V133.6H918V133.5H919V133.2H920V133.5H921V133.7H922V133.4H923V132.8H924V133.6H925V133.6H926V133.0H927V133.1H928V133.5H929V133.6H930V133.4H931V133.3H932V133.2H933V133.5H934V133.2H935V133.5H936V133.6H937V133.5H938V133.5H939V133.3H940V133.1H941V133.3H942V133.4H943V133.5H944V133.0H945V133.3H946V133.8H947V133.1H948V133.5H949V133.3H950V133.4H951V133.6H952V133.7H953V133.5H954V133.4H955V133.3H956V133.4H957V133.5H958V132.8H959V133.4H960V133.2H961V133.6H962V133.4H963V133.4H964V133.5H965V133.5H966V133.3H967V133.5H968V133.4H969V133.0H970V133.3H971V133.0H972V133.4H973V133.5H974V133.6H975V133.8H976V133.3H977V133.6H978V133.4H979V133.4H980V136.4H979V136.7H978V136.4H977V136.9H976V136.5H975V136.7H974V137.6H973V136.6H972V136.8H971V137.0H970V136.3H969V137.0H968V136.7H967V136.6H966V136.6H965V136.4H964V136.6H963V136.7H962V136.6H961V136.5H960V136.5H959V136.5H958V136.6H957V136.8H956V136.4H955V137.0H954V136.6H953V136.9H952V136.7H951V136.5H950V137.0H949V136.4H948V136.6H947V137.0H946V136.7H945V136.6H944V137.0H943V136.5H942V136.7H941V136.9H940V136.5H939V136.8H938V136.5H937V136.9H936V136.5H935V136.4H934V136.7H933V136.6H932V136.8H931V136.5H930V136.6H929V136.4H928V136.5H927V136.4H926V136.6H925V136.7H924V136.8H923V136.6H922V136.9H921V136.5H920V136.5H919V136.9H918V136.6H917V136.5H916V136.5H915V136.5H914V136.5H913V137.0H912V136.4H911V136.6H910V136.7H909V136.5H908V136.8H907V137.2H906V136.6H905V136.4H904V136.6H903V137.0H902V136.5H901V136.8H900V137.4H899V136.7H898V136.6H897V136.6H896V136.6H895V136.6H894V136.5H893V136.6H892V137.0H891V136.7H890V136.4H889V136.5H888V136.7H887V136.3H886V136.7H885V136.6H884V136.8H883V136.9H882V136.6H881V136.7H880V136.6H879V136.5H878V136.9H877V136.5H876V136.5H875V136.8H874V136.6H873V136.6H872V136.6H871V136.4H870V137.0H869V136.9H868V136.5H867V136.4H866V136.8H865V136.5H864V136.8H863V136.5H862V137.0H861V137.2H860V136.6H859V136.9H858V136.7H857V136.9H856V136.6H855V136.7H854V136.6H853V136.6H852V136.6H851V136.4H850V137.1H849V136.6H848V136.8H847V136.5H846V136.8H845V136.6H844V137.1H843V136.3H842V137.1H841V136.9H840V136.4H839V136.4H838V136.4H837V137.2H836V136.4H835V136.9H834V136.4H833V136.6H832V137.1H831V136.7H830V136.6H829V136.5H828V136.7H827V136.5H826V136.6H825V136.7H824V136.7H823V137.4H822V137.3H821V136.5H820V136.8H819V136.7H818V136.5H817V136.6H816V136.4H815V136.5H814V136.7H813V136.9H812V136.5H811V136.7H810V136.8H809V136.8H808V136.9H807V136.7H806V136.4H805V137.0H804V137.0H803V136.8H802V136.5H801V136.9H800V136.4H799V136.7H798V136.3H797V136.8H796V136.5H795V136.2H794V136.5H793V136.5H792V136.3H791V137.1H790V136.5H789V136.5H788V136.5H787V136.7H786V136.6H785V136.5H784V136.4H783V136.5H782V136.5H781V137.0H780V136.5H779V136.7H778V136.6H777V136.6H776V136.7H775V136.4H774V136.6H773Z" fill="#1f77b4"/>
<path d="M773,128.7H774V128.8H775V128.8H776V128.7H777V128.6H778V128.7H779V128.6H780V128.8H781V128.7H782V128.7H783V128.8H784V128.6H785V128.8H786V128.7H787V128.7H788V128.9H789V128.8H790V128.9H791V128.7H792V128.7H793V128.8H794V128.8H795V128.4H796V128.9H797V128.9H798V128.9H799V128.6H800V128.6H801V128.5H802V128.8H803V128.7H804V128.7H805V128.8H806V128.9H807V128.7H808V128.6H809V128.7H810V128.8H811V128.8H812V128.7H813V128.7H814V128.7H815V128.7H816V128.8H817V128.7H818V128.8H819V128.6H820V128.9H821V128.8H822V128.8H823V128.6H824V128.8H825V128.7H826V128.7H827V128.8H828V128.8H829V128.9H830V128.8H831V128.7H832V128.6H833V128.7H834V128.8H835V128.8H836V128.7H837V128.5H838V128.7H839V128.8H840V128.6H841V128.8H842V128.8H843V128.8H844V128.8H845V128.8H846V128.8H847V128.8H848V128.7H849V128.9H850V128.8H851V128.9H852V128.8H853V128.7H854V128.7H855V128.6H856V128.7H857V128.7H858V128.7H859V128.7H860V128.8H861V128.7H862V128.8H863V128.8H864V128.8H865V128.8H866V128.8H867V128.8H868V128.7H869V128.8H870V128.7H871V128.7H872V128.8H873V128.8H874V128.9H875V128.9H876V128.8H877V128.8H878V128.7H879V128.8H880V128.9H881V128.8H882V128.7H883V128.9H884V128.6H885V128.6H886V128.6H887V128.8H888V128.8H889V128.9H890V128.6H891V128.7H892V128.7H893V128.7H894V128.8H895V128.7H896V128.7H897V128.7H898V128.7H899V128.6H900V128.7H901V128.9H902V128.7H903V128.8H904V128.8H905V128.8H906V128.9H907V128.6H908V128.7H909V128.8H910V128.8H911V128.6H912V128.6H913V128.6H914V128.8H915V128.9H916V128.6H917V128.6H918V128.9H919V128.7H920V128.6H921V128.9H922V128.8H923V128.8H924V128.8H925V128.9H926V128.7H927V128.7H928V128.7H929V128.7H930V128.7H931V128.7H932V128.6H933V128.8H934V128.6H935V128.7H936V128.8H937V128.6H938V128.9H939V128.9H940V128.8H941V128.8H942V128.9H943V128.7H944V128.8H945V128.6H946V128.8H947V128.7H948V128.7H949V128.8H950V128.8H951V128.8H952V128.7H953V128.7H954V128.7H955V128.9H956V128.8H957V128.8H958V128.7H959V128.7H960V128.8H961V128.8H962V128.8H963V128.8H964V128.8H965V128.7H966V128.8H967V128.8H968V128.8H969V128.7H970V128.6H971V128.7H972V128.9H973V128.8H974V128.8H975V128.5H976V128.8H977V128.7H978V128.8H979V129.0H980V130.6H979V130.9H978V130.8H977V130.8H976V130.7H975V130.9H974V130.8H973V131.1H972V130.9H971V131.1H970V130.9H969V130.9H968V130.8H967V130.8H966V130.8H965V130.9H964V130.7H963V130.8H962V130.8H961V130.9H960V131.0H959V130.9H958V130.8H957V130.7H956V130.9H955V130.9H954V130.9H953V130.9H952V130.8H951V130.8H950V130.8H949V131.0H948V130.9H947V130.8H946V130.9H945V130.9H944V130.8H943V130.7H942V130.9H941V130.8H940V131.1H939V130.7H938V130.9H937V130.9H936V130.8H935V131.0H934V130.7H933V130.8H932V131.0H931V130.7H930V130.9H929V130.9H928V130.9H927V131.0H926V130.9H925V130.8H924V130.9H923V130.8H922V130.8H921V131.1H920V131.0H919V131.0H918V130.9H917V130.9H916V130.9H915V130.9H914V130.8H913V130.8H912V131.0H911V130.9H910V130.8H909V130.9H908V130.9H907V130.9H906V130.8H905V131.1H904V130.8H903V130.7H902V131.0H901V130.9H900V130.9H899V130.7H898V131.1H897V130.9H896V130.7H895V130.9H894V131.0H893V131.0H892V130.9H891V130.8H890V130.8H889V130.8H888V130.8H887V130.9H886V130.8H885V131.1H884V130.8H883V130.8H882V130.9H881V130.8H880V131.1H879V130.8H878V130.9H877V130.9H876V130.8H875V130.8H874V130.9H873V131.0H872V131.1H871V130.7H870V130.9H869V130.8H868V130.8H867V130.9H866V130.8H865V130.9H864V131.0H863V131.1H862V130.9H861V131.0H860V131.2H859V130.8H858V131.1H857V130.9H856V130.7H855V130.8H854V130.8H853V130.8H852V130.9H851V131.0H850V130.8H849V131.0H848V130.9H847V130.9H846V130.8H845V131.0H844V131.0H843V130.7H842V130.8H841V131.0H840V131.0H839V131.0H838V130.9H837V130.8H836V130.9H835V130.9H834V131.0H833V130.7H832V130.8H831V131.0H830V131.0H829V131.1H828V131.0H827V130.8H826V131.0H825V130.8H824V130.8H823V130.8H822V130.8H821V130.8H820V130.8H819V130.8H818V130.9H817V130.8H816V131.0H815V131.0H814V130.8H813V130.7H812V130.9H811V131.0H810V130.9H809V131.0H808V131.2H807V130.9H806V130.9H805V130.8H804V130.8H803V130.8H802V131.0H801V130.8H800V130.9H799V130.8H798V130.9H797V131.0H796V130.8H795V130.9H794V131.0H793V131.0H792V130.8H791V130.8H790V130.9H789V130.9H788V130.8H787V130.9H786V130.8H785V130.8H784V130.9H783V131.0H782V130.7H781V130.8H780V130.8H779V130.9H778V130.9H777V130.9H776V130.9H775V131.0H774V130.9H773ZM773,133.3H774V133.2H775V133.3H776V133.3H777V133.1H778V133.2H779V133.1H780V133.2H781V133.1H782V133.1H783V133.2H784V133.0H785V133.3H786V133.0H787V133.1H788V133.2H789V133.1H790V133.3H791V132.9H792V133.3H793V133.2H794V133.2H795V133.2H796V133.2H797V133.2H798V133.2H799V133.1H800V132.9H801V133.2H802V133.3H803V133.3H804V133.2H805V133.3H806V133.1H807V133.3H808V133.3H809V133.3H810V133.2H811V133.2H812V133.1H813V133.3H814V132.9H815V133.2H816V133.3H817V133.2H818V133.2H819V133.2H820V133.1H821V133.2H822V133.2H823V133.2H824V133.2H825V133.2H826V133.1H827V133.3H828V133.1H829V133.2H830V133.2H831V133.2H832V133.2H833V133.2H834V133.2H835V133.2H836V133.2H837V133.4H838V133.2H839V133.1H840V133.1H841V133.3H842V133.2H843V133.2H844V133.2H845V133.2H846V133.1H847V133.1H848V133.2H849V133.1H850V133.2H851V133.1H852V133.2H853V133.2H854V133.3H855V133.2H856V133.2H857V133.2H858V133.2H859V133.0H860V133.2H861V133.3H862V133.1H863V133.1H864V133.2H865V133.2H866V133.2H867V133.2H868V133.2H869V133.3H870V133.2H871V133.3H872V133.2H873V133.2H874V133.2H875V133.3H876V133.2H877V133.1H878V133.2H879V133.0H880V133.3H881V133.3H882V133.2H883V133.3H884V133.2H885V133.1H886V133.2H887V133.2H888V133.1H889V133.2H890V133.1H891V133.2H892V133.1H893V133.1H894V133.3H895V133.2H896V133.3H897V133.2H898V133.1H899V133.2H900V133.2H901V133.2H902V133.1H903V133.3H904V133.1H905V133.3H906V133.2H907V133.2H908V133.1H909V133.1H910V133.2H911V133.2H912V133.2H913V133.2H914V133.2H915V133.2H916V132.9H917V133.2H918V133.1H919V133.2H920V133.2H921V133.3H922V133.3H923V133.1H924V132.9H925V133.1H926V133.1H927V133.3H928V133.2H929V133.1H930V133.3H931V133.3H932V133.2H933V133.2H934V133.3H935V133.3H936V133.3H937V133.2H938V133.2H939V133.2H940V133.2H941V133.2H942V133.2H943V133.2H944V133.3H945V133.1H946V133.1H947V133.0H948V133.2H949V133.2H950V133.2H951V133.3H952V133.2H953V133.2H954V133.3H955V133.3H956V133.3H957V133.2H958V133.0H959V133.1H960V133.2H961V133.3H962V133.1H963V133.1H964V133.2H965V133.3H966V133.2H967V133.2H968V133.2H969V133.1H970V133.3H971V133.1H972V133.2H973V133.1H974V133.1H975V133.2H976V133.1H977V133.2H978V133.3H979V133.4H980V135.1H979V135.1H978V135.1H977V135.3H976V135.2H975V135.1H974V135.2H973V135.1H972V135.3H971V135.1H970V135.0H969V135.2H968V135.0H967V135.2H966V135.2H965V135.1H964V135.0H963V135.1H962V135.2H961V135.1H960V135.2H959V135.1H958V135.2H957V135.2H956V135.1H955V135.2H954V135.0H953V135.3H952V135.2H951V135.2H950V135.1H949V135.2H948V135.1H947V135.1H946V135.0H945V135.2H944V135.1H943V135.2H942V135.1H941V135.1H940V135.0H939V135.1H938V135.2H937V135.1H936V135.2H935V135.2H934V135.1H933V135.2H932V135.0H931V135.1H930V135.4H929V135.2H928V135.1H927V135.1H926V135.1H925V135.1H924V135.1H923V135.1H922V135.1H921V135.1H920V135.3H919V135.1H918V135.0H917V135.1H916V135.1H915V135.1H914V135.1H913V135.1H912V135.1H911V135.1H910V135.1H909V135.0H908V135.1H907V135.1H906V135.2H905V135.0H904V135.1H903V135.1H902V135.1H901V135.1H900V135.3H899V135.3H898V135.2H897V135.2H896V135.1H895V135.1H894V135.0H893V135.2H892V135.1H891V135.0H890V135.1H889V135.0H888V135.2H887V135.2H886V135.2H885V135.1H884V135.2H883V135.1H882V135.2H881V135.4H880V135.3H879V135.0H878V135.0H877V135.5H876V135.1H875V135.2H874V135.0H873V135.1H872V135.1H871V135.1H870V135.1H869V135.1H868V134.9H867V135.3H866V135.2H865V135.1H864V135.1H863V135.1H862V135.3H861V135.1H860V135.0H859V135.1H858V135.1H857V135.2H856V135.2H855V135.1H854V135.1H853V135.2H852V135.2H851V135.1H850V135.0H849V135.3H848V135.0H847V135.2H846V135.1H845V135.0H844V135.1H843V135.2H842V135.1H841V135.1H840V135.1H839V135.2H838V135.2H837V135.2H836V135.1H835V135.1H834V135.1H833V135.1H832V135.1H831V135.1H830V135.1H829V135.3H828V135.1H827V135.2H826V135.1H825V135.2H824V135.2H823V135.3H822V135.2H821V135.1H820V135.2H819V135.1H818V135.1H817V135.1H816V135.0H815V135.1H814V135.1H813V135.0H812V135.0H811V135.0H810V135.1H809V135.1H808V135.0H807V135.1H806V135.1H805V135.1H804V135.2H803V135.1H802V135.1H801V135.2H800V135.2H799V135.1H798V135.0H797V135.1H796V135.0H795V135.2H794V135.0H793V135.4H792V135.0H791V135.1H790V135.2H789V135.2H788V135.1H787V135.3H786V135.2H785V135.2H784V135.1H783V135.1H782V135.0H781V135.0H780V135.1H779V135.1H778V135.1H777V135.2H776V135.2H775V135.2H774V135.1H773Z" fill="#ff7f0e"/>
<path d="M773,131.2H774V131.0H775V131.0H776V130.8H777V131.1H778V130.9H779V131.0H780V130.9H781V130.9H782V131.0H783V130.9H784V130.9H785V130.9H786V131.1H787V130.9H788V130.8H789V130.8H790V130.7H791V131.0H792V130.9H793V130.9H794V130.9H795V131.1H796V130.9H797V131.0H798V131.0H799V130.8H800V130.7H801V130.7H802V131.0H803V130.5H804V130.9H805V131.1H806V130.6H807V130.8H808V130.7H809V131.1H810V130.7H811V131.1H812V131.0H813V130.9H814V130.9H815V130.8H816V130.9H817V130.9H818V130.9H819V130.9H820V130.8H821V130.8H822V130.5H823V130.8H824V130.5H825V130.6H826V130.7H827V130.9H828V130.7H829V130.9H830V130.7H831V130.9H832V130.7H833V130.9H834V131.0H835V131.1H836V131.0H837V130.9H838V130.8H839V131.0H840V130.8H841V130.8H842V130.8H843V130.9H844V131.0H845V130.8H846V130.8H847V130.9H848V130.6H849V131.2H850V131.0H851V130.8H852V130.8H853V130.8H854V130.9H855V130.7H856V130.9H857V131.0H858V131.0H859V131.1H860V131.0H861V130.6H862V130.9H863V130.9H864V131.1H865V131.0H866V130.9H867V131.0H868V130.8H869V131.0H870V131.0H871V130.9H872V130.8H873V130.9H874V131.0H875V131.0H876V130.5H877V130.9H878V130.8H879V130.8H880V130.8H881V131.0H882V131.1H883V131.1H884V130.9H885V130.9H886V130.9H887V131.0H888V130.9H889V131.1H890V131.0H891V131.1H892V131.0H893V130.8H894V130.8H895V130.9H896V130.7H897V130.8H898V131.0H899V130.8H900V131.0H901V130.9H902V131.0H903V131.0H904V130.8H905V130.9H906V130.8H907V130.9H908V130.8H909V130.9H910V130.9H911V130.7H912V130.9H913V130.9H914V130.8H915V130.7H916V130.8H917V130.9H918V130.9H919V131.0H920V130.8H921V131.0H922V130.8H923V130.6H924V130.9H925V130.9H926V131.1H927V131.1H928V131.0H929V130.9H930V131.0H931V130.7H932V130.8H933V130.8H934V130.8H935V130.8H936V130.9H937V130.9H938V130.8H939V131.0H940V130.7H941V131.0H942V130.7H943V130.9H944V130.7H945V130.7H946V130.5H947V130.7H948V130.9H949V131.0H950V131.0H951V130.8H952V130.7H953V130.8H954V130.9H955V130.9H956V131.0H957V130.9H958V131.1H959V130.9H960V130.8H961V130.9H962V131.0H963V131.0H964V130.9H965V130.9H966V130.8H967V131.0H968V130.9H969V130.5H970V130.9H971V131.0H972V130.8H973V131.1H974V130.9H975V131.0H976V131.2H977V130.8H978V131.0H979V131.0H980V133.0H979V133.4H978V133.4H977V133.1H976V133.5H975V133.2H974V133.3H973V133.3H972V133.2H971V133.3H970V133.2H969V133.6H968V133.3H967V133.1H966V133.3H965V133.2H964V133.5H963V133.2H962V133.3H961V133.2H960V133.2H959V133.2H958V133.4H957V133.1H956V133.4H955V133.5H954V133.3H953V133.1H952V133.3H951V133.1H950V133.0H949V133.2H948V133.4H947V133.3H946V133.5H945V133.3H944V133.3H943V133.1H942V133.3H941V133.2H940V133.3H939V133.2H938V133.2H937V133.3H936V133.4H935V133.5H934V133.5H933V133.3H932V133.2H931V133.3H930V133.4H929V133.2H928V133.3H927V133.2H926V133.2H925V133.1H924V133.3H923V133.5H922V133.5H921V133.4H920V133.4H919V133.3H918V133.2H917V133.3H916V133.2H915V133.2H914V133.2H913V133.5H912V133.2H911V133.1H910V133.4H909V133.4H908V133.2H907V133.4H906V133.3H905V133.3H904V133.4H903V133.3H902V133.3H901V133.3H900V133.3H899V133.4H898V133.4H897V133.2H896V133.1H895V133.5H894V133.4H893V133.4H892V133.3H891V133.3H890V133.5H889V133.2H888V133.3H887V133.5H886V133.3H885V133.2H884V133.3H883V133.5H882V133.3H881V133.5H880V133.4H879V133.4H878V133.3H877V133.2H876V133.3H875V133.2H874V133.6H873V133.3H872V133.4H871V133.3H870V133.1H869V133.5H868V133.2H867V133.3H866V133.4H865V133.6H864V133.3H863V133.5H862V133.3H861V133.4H860V133.4H859V133.1H858V133.2H857V133.4H856V133.3H855V133.4H854V133.2H853V133.4H852V133.4H851V133.0H850V133.4H849V133.3H848V133.4H847V133.4H846V133.3H845V133.1H844V133.3H843V133.3H842V133.1H841V133.6H840V133.3H839V133.1H838V133.1H837V133.3H836V133.3H835V133.2H834V133.4H833V133.0H832V133.2H831V133.1H830V133.5H829V133.2H828V133.2H827V133.4H826V133.2H825V133.1H824V133.5H823V133.2H822V133.3H821V133.2H820V133.3H819V133.2H818V133.3H817V133.2H816V133.5H815V133.4H814V133.4H813V133.2H812V133.1H811V133.3H810V133.3H809V133.0H808V133.1H807V133.3H806V133.3H805V133.2H804V133.2H803V133.2H802V133.2H801V133.3H800V133.1H799V133.5H798V133.4H797V133.2H796V133.4H795V133.3H794V133.2H793V133.3H792V133.4H791V133.3H790V133.3H789V133.2H788V133.4H787V133.1H786V133.3H785V133.2H784V133.5H783V133.2H782V133.1H781V133.2H780V133.4H779V133.4H778V133.3H777V133.4H776V133.5H775V133.6H774V133.3H773ZM773,131.5H774V131.2H775V131.6H776V131.4H777V131.1H778V131.4H779V131.2H780V131.2H781V131.2H782V131.4H783V131.3H784V131.4H785V131.3H786V131.2H787V131.4H788V131.6H789V131.3H790V131.2H791V131.4H792V131.5H793V131.5H794V131.4H795V131.4H796V131.2H797V131.3H798V131.3H799V131.4H800V131.4H801V131.3H802V131.4H803V131.4H804V131.5H805V131.4H806V131.4H807V131.4H808V131.4H809V131.3H810V131.0H811V131.2H812V131.4H813V131.3H814V131.3H815V131.3H816V131.4H817V131.3H818V131.3H819V131.4H820V130.9H821V131.1H822V131.2H823V131.2H824V131.4H825V131.2H826V131.6H827V131.2H828V131.2H829V131.3H830V131.2H831V131.3H832V131.2H833V131.4H834V131.4H835V131.3H836V131.4H837V131.2H838V131.5H839V131.4H840V131.4H841V131.4H842V131.3H843V131.4H844V131.6H845V131.4H846V131.5H847V131.4H848V131.5H849V131.3H850V131.4H851V131.4H852V131.3H853V131.5H854V131.4H855V131.4H856V131.1H857V131.3H858V131.6H859V131.3H860V131.3H861V131.6H862V131.3H863V131.3H864V131.6H865V131.6H866V131.6H867V131.2H868V131.0H869V131.3H870V131.4H871V131.3H872V131.5H873V131.3H874V131.2H875V131.3H876V131.4H877V131.3H878V131.2H879V131.4H880V131.4H881V131.1H882V131.3H883V131.3H884V131.4H885V131.4H886V131.5H887V131.3H888V131.4H889V131.5H890V131.5H891V131.6H892V131.5H893V131.4H894V131.5H895V131.3H896V131.4H897V131.4H898V131.5H899V131.5H900V131.3H901V131.4H902V131.5H903V131.4H904V131.4H905V131.3H906V131.4H907V131.4H908V131.4H909V131.4H910V131.4H911V131.5H912V131.3H913V131.4H914V131.3H915V131.3H916V131.5H917V131.4H918V131.3H919V131.0H920V131.4H921V131.4H922V131.6H923V131.4H924V131.3H925V131.4H926V131.1H927V131.4H928V131.3H929V131.3H930V131.3H931V131.5H932V131.1H933V131.4H934V131.6H935V131.5H936V131.4H937V131.2H938V131.5H939V131.1H940V131.3H941V131.3H942V131.2H943V131.4H944V131.5H945V131.4H946V131.2H947V131.4H948V131.2H949V131.2H950V131.3H951V131.3H952V131.5H953V131.3H954V131.4H955V131.5H956V131.3H957V131.2H958V131.2H959V131.4H960V131.5H961V131.4H962V131.2H963V131.4H964V131.4H965V131.7H966V131.4H967V131.6H968V131.3H969V131.3H970V131.3H971V131.4H972V131.3H973V131.4H974V131.3H975V131.3H976V131.5H977V131.4H978V131.4H979V131.2H980V133.6H979V133.9H978V133.7H977V133.6H976V133.9H975V134.0H974V133.9H973V133.8H972V133.9H971V133.6H970V133.6H969V133.7H968V133.8H967V133.7H966V133.7H965V133.8H964V133.8H963V133.7H962V133.9H961V134.3H960V133.8H959V133.9H958V133.6H957V133.8H956V133.6H955V133.7H954V133.8H953V133.8H952V133.7H951V133.8H950V133.7H949V133.9H948V134.0H947V133.7H946V133.9H945V133.5H944V134.0H943V133.7H942V133.8H941V133.7H940V133.8H939V133.6H938V133.8H937V133.6H936V134.0H935V133.7H934V133.9H933V133.8H932V133.6H931V134.0H930V133.7H929V133.5H928V133.8H927V133.7H926V133.8H925V133.8H924V133.6H923V133.8H922V133.8H921V133.7H920V134.1H919V133.9H918V133.6H917V133.8H916V133.5H915V133.8H914V133.7H913V133.7H912V134.1H911V133.8H910V133.7H909V133.7H908V133.8H907V134.1H906V133.7H905V133.6H904V133.7H903V133.8H902V133.8H901V133.9H900V134.0H899V134.0H898V133.8H897V133.8H896V133.5H895V133.9H894V133.5H893V133.6H892V133.8H891V133.7H890V133.7H889V133.8H888V133.9H887V133.9H886V133.9H885V133.8H884V133.8H883V133.7H882V133.6H881V133.8H880V133.7H879V133.9H878V133.9H877V133.7H876V133.7H875V133.8H874V133.7H873V133.5H872V133.9H871V133.7H870V133.6H869V133.8H868V133.9H867V134.2H866V133.6H865V133.7H864V134.3H863V133.7H862V133.9H861V133.7H860V133.7H859V133.7H858V133.8H857V133.9H856V133.8H855V133.7H854V133.7H853V133.8H852V133.7H851V133.8H850V133.6H849V133.7H848V133.8H847V133.7H846V133.8H845V133.9H844V134.1H843V133.8H842V133.8H841V133.8H840V133.6H839V133.8H838V133.8H837V133.7H836V133.8H835V133.5H834V133.8H833V133.7H832V133.6H831V133.7H830V133.7H829V133.7H828V133.7H827V133.8H826V133.7H825V133.8H824V133.6H823V133.8H822V133.8H821V133.9H820V133.7H819V133.7H818V133.7H817V133.9H816V133.8H815V133.6H814V133.7H813V133.6H812V133.8H811V133.8H810V133.8H809V133.7H808V133.6H807V133.7H806V133.6H805V133.7H804V133.7H803V133.8H802V133.6H801V134.0H800V133.7H799V133.8H798V133.8H797V133.7H796V133.8H795V133.7H794V134.0H793V133.8H792V133.7H791V133.7H790V133.8H789V133.8H788V133.9H787V133.8H786V133.7H785V133.9H784V133.7H783V134.1H782V133.7H781V133.8H780V133.8H779V133.8H778V133.9H777V133.8H776V133.8H775V133.6H774V133.7H773Z" fill="#2ca02c"/>
</g>
<path d="M763.6,63.0V209.9" stroke="#000" stroke-opacity="0.8" stroke-width="1"/>
<path d="M989.45,63.0V209.9" stroke="#000" stroke-opacity="0.8" stroke-width="1"/>
<path d="M763.1,63.5H989.95" stroke="#000" stroke-opacity="0.8" stroke-width="1"/>
<path d="M763.1,209.4H989.95" stroke="#000" stroke-opacity="0.8" stroke-width="1"/>
<line x1="773.50" y1="209.4" x2="773.50" y2="212.60" stroke="#000" stroke-opacity="0.8" stroke-width="0.9"/>
<text x="773.50" y="224.40" font-size="13.19" text-anchor="middle" textLength="7.95" lengthAdjust="spacingAndGlyphs" fill="#000">0</text>
<line x1="823.75" y1="209.4" x2="823.75" y2="212.60" stroke="#000" stroke-opacity="0.8" stroke-width="0.9"/>
<text x="823.75" y="224.40" font-size="13.19" text-anchor="middle" textLength="31.81" lengthAdjust="spacingAndGlyphs" fill="#000">2000</text>
<line x1="874.00" y1="209.4" x2="874.00" y2="212.60" stroke="#000" stroke-opacity="0.8" stroke-width="0.9"/>
<text x="874.00" y="224.40" font-size="13.19" text-anchor="middle" textLength="31.81" lengthAdjust="spacingAndGlyphs" fill="#000">4000</text>
<line x1="924.25" y1="209.4" x2="924.25" y2="212.60" stroke="#000" stroke-opacity="0.8" stroke-width="0.9"/>
<text x="924.25" y="224.40" font-size="13.19" text-anchor="middle" textLength="31.81" lengthAdjust="spacingAndGlyphs" fill="#000">6000</text>
<line x1="974.50" y1="209.4" x2="974.50" y2="212.60" stroke="#000" stroke-opacity="0.8" stroke-width="0.9"/>
<text x="974.50" y="224.40" font-size="13.19" text-anchor="middle" textLength="31.81" lengthAdjust="spacingAndGlyphs" fill="#000">8000</text>
<line x1="760.60" y1="88.70" x2="763.6" y2="88.70" stroke="#000" stroke-opacity="0.8" stroke-width="0.9"/>
<line x1="760.60" y1="132.45" x2="763.6" y2="132.45" stroke="#000" stroke-opacity="0.8" stroke-width="0.9"/>
<line x1="760.60" y1="175.45" x2="763.6" y2="175.45" stroke="#000" stroke-opacity="0.8" stroke-width="0.9"/>
<text x="876.53" y="42.80" font-size="14.77" text-anchor="middle" textLength="135.78" lengthAdjust="spacingAndGlyphs" fill="#000">Full-Vector Rotation</text>
<text x="876.53" y="58.60" font-size="14.77" text-anchor="middle" textLength="138.48" lengthAdjust="spacingAndGlyphs" fill="#000">Max Range = 0.415</text>
<text x="876.53" y="240.80" font-size="15.30" text-anchor="middle" textLength="20.52" lengthAdjust="spacingAndGlyphs" fill="#000">(b)</text>
<rect x="292.5" y="5.5" width="408" height="21.7" rx="3" fill="#fff" fill-opacity="0.8" stroke="#dadada" stroke-width="1"/>
<line x1="296.9" y1="15.4" x2="322.8" y2="15.4" stroke="#1f77b4" stroke-width="1.5"/>
<text x="332.12" y="19.60" font-size="13.19" text-anchor="start" textLength="52.23" lengthAdjust="spacingAndGlyphs" fill="#000">Min/Max</text>
<line x1="408" y1="15.4" x2="434.1" y2="15.4" stroke="#ff7f0e" stroke-width="1.5"/>
<text x="443.62" y="19.60" font-size="13.19" text-anchor="start" textLength="93.71" lengthAdjust="spacingAndGlyphs" fill="#000">1/99 Percentile</text>
<line x1="560" y1="15.4" x2="585.9" y2="15.4" stroke="#2ca02c" stroke-width="1.5"/>
<text x="595.33" y="19.60" font-size="13.19" text-anchor="start" textLength="101.67" lengthAdjust="spacingAndGlyphs" fill="#000">25/75 Percentile</text>
<text x="496.90" y="269.00" font-size="16.35" text-anchor="middle" textLength="189.91" lengthAdjust="spacingAndGlyphs" fill="#000">Hidden Dimension Index</text>
<text x="17.70" y="149.25" font-size="16.35" text-anchor="middle" textLength="125.09" lengthAdjust="spacingAndGlyphs" fill="#000" transform="rotate(-90 17.7 149.25)">Activation Value</text>
</svg></body></html>
